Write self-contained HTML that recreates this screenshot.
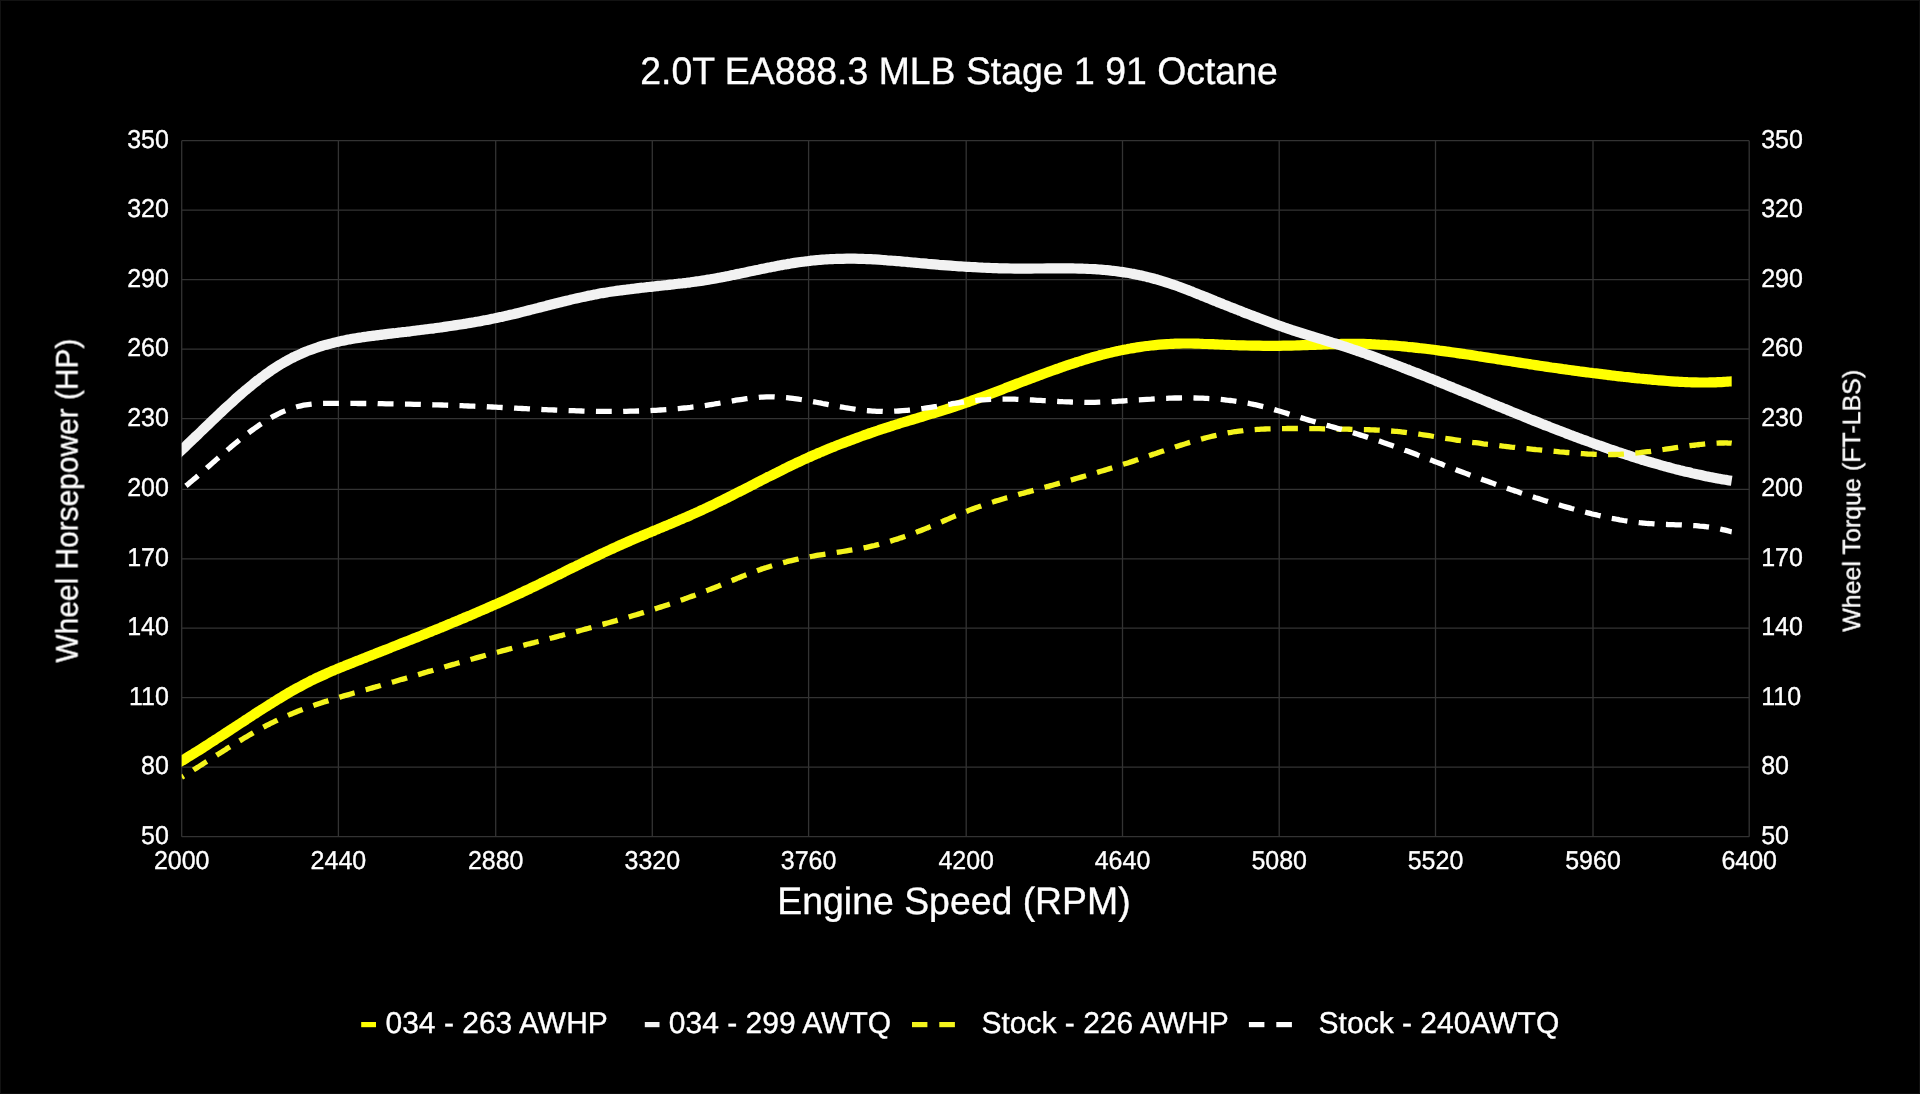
<!DOCTYPE html>
<html><head><meta charset="utf-8"><title>2.0T EA888.3 MLB Stage 1 91 Octane</title>
<style>html,body{margin:0;padding:0;background:#000;}body{width:1920px;height:1094px;overflow:hidden;}svg{display:block;}text{text-rendering:geometricPrecision;}#c{will-change:transform;width:1920px;height:1094px;}</style>
</head><body><div id="c">
<svg width="1920" height="1094" viewBox="0 0 1920 1094">
<rect x="0" y="0" width="1920" height="1094" fill="#000"/>
<rect x="0" y="0" width="1920" height="1" fill="#121212"/><rect x="0" y="0" width="1" height="1094" fill="#121212"/>
<rect x="1919" y="0" width="1" height="1094" fill="#101010"/><rect x="0" y="1093" width="1920" height="1" fill="#0d0d0d"/>
<g stroke="#333333" stroke-width="1.3" fill="none">
<line x1="181.7" y1="140.7" x2="181.7" y2="836.7"/>
<line x1="338.4" y1="140.7" x2="338.4" y2="836.7"/>
<line x1="495.7" y1="140.7" x2="495.7" y2="836.7"/>
<line x1="652.3" y1="140.7" x2="652.3" y2="836.7"/>
<line x1="808.6" y1="140.7" x2="808.6" y2="836.7"/>
<line x1="966.2" y1="140.7" x2="966.2" y2="836.7"/>
<line x1="1122.5" y1="140.7" x2="1122.5" y2="836.7"/>
<line x1="1279.2" y1="140.7" x2="1279.2" y2="836.7"/>
<line x1="1435.5" y1="140.7" x2="1435.5" y2="836.7"/>
<line x1="1593.0" y1="140.7" x2="1593.0" y2="836.7"/>
<line x1="1749.2" y1="140.7" x2="1749.2" y2="836.7"/>
<line x1="181.7" y1="140.7" x2="1749.2" y2="140.7"/>
<line x1="181.7" y1="210.2" x2="1749.2" y2="210.2"/>
<line x1="181.7" y1="279.7" x2="1749.2" y2="279.7"/>
<line x1="181.7" y1="349.2" x2="1749.2" y2="349.2"/>
<line x1="181.7" y1="418.6" x2="1749.2" y2="418.6"/>
<line x1="181.7" y1="489.4" x2="1749.2" y2="489.4"/>
<line x1="181.7" y1="558.8" x2="1749.2" y2="558.8"/>
<line x1="181.7" y1="628.2" x2="1749.2" y2="628.2"/>
<line x1="181.7" y1="697.7" x2="1749.2" y2="697.7"/>
<line x1="181.7" y1="767.2" x2="1749.2" y2="767.2"/>
<line x1="181.7" y1="836.7" x2="1749.2" y2="836.7"/>
</g>
<g fill="#fff" font-family="Liberation Sans, sans-serif" font-size="25" opacity="0.999">
<text transform="translate(168.90,147.65) scale(1,1.03)" font-size="25" fill="#fff" stroke="#fff" stroke-width="0.35" text-anchor="end">350</text>
<text transform="translate(168.90,217.15) scale(1,1.03)" font-size="25" fill="#fff" stroke="#fff" stroke-width="0.35" text-anchor="end">320</text>
<text transform="translate(168.90,286.65) scale(1,1.03)" font-size="25" fill="#fff" stroke="#fff" stroke-width="0.35" text-anchor="end">290</text>
<text transform="translate(168.90,356.15) scale(1,1.03)" font-size="25" fill="#fff" stroke="#fff" stroke-width="0.35" text-anchor="end">260</text>
<text transform="translate(168.90,425.55) scale(1,1.03)" font-size="25" fill="#fff" stroke="#fff" stroke-width="0.35" text-anchor="end">230</text>
<text transform="translate(168.90,496.35) scale(1,1.03)" font-size="25" fill="#fff" stroke="#fff" stroke-width="0.35" text-anchor="end">200</text>
<text transform="translate(168.90,565.75) scale(1,1.03)" font-size="25" fill="#fff" stroke="#fff" stroke-width="0.35" text-anchor="end">170</text>
<text transform="translate(168.90,635.15) scale(1,1.03)" font-size="25" fill="#fff" stroke="#fff" stroke-width="0.35" text-anchor="end">140</text>
<text transform="translate(168.90,704.65) scale(1,1.03)" font-size="25" fill="#fff" stroke="#fff" stroke-width="0.35" text-anchor="end">110</text>
<text transform="translate(168.90,774.15) scale(1,1.03)" font-size="25" fill="#fff" stroke="#fff" stroke-width="0.35" text-anchor="end">80</text>
<text transform="translate(168.90,843.65) scale(1,1.03)" font-size="25" fill="#fff" stroke="#fff" stroke-width="0.35" text-anchor="end">50</text>
<text transform="translate(1761.20,147.65) scale(1,1.03)" font-size="25" fill="#fff" stroke="#fff" stroke-width="0.35">350</text>
<text transform="translate(1761.20,217.15) scale(1,1.03)" font-size="25" fill="#fff" stroke="#fff" stroke-width="0.35">320</text>
<text transform="translate(1761.20,286.65) scale(1,1.03)" font-size="25" fill="#fff" stroke="#fff" stroke-width="0.35">290</text>
<text transform="translate(1761.20,356.15) scale(1,1.03)" font-size="25" fill="#fff" stroke="#fff" stroke-width="0.35">260</text>
<text transform="translate(1761.20,425.55) scale(1,1.03)" font-size="25" fill="#fff" stroke="#fff" stroke-width="0.35">230</text>
<text transform="translate(1761.20,496.35) scale(1,1.03)" font-size="25" fill="#fff" stroke="#fff" stroke-width="0.35">200</text>
<text transform="translate(1761.20,565.75) scale(1,1.03)" font-size="25" fill="#fff" stroke="#fff" stroke-width="0.35">170</text>
<text transform="translate(1761.20,635.15) scale(1,1.03)" font-size="25" fill="#fff" stroke="#fff" stroke-width="0.35">140</text>
<text transform="translate(1761.20,704.65) scale(1,1.03)" font-size="25" fill="#fff" stroke="#fff" stroke-width="0.35">110</text>
<text transform="translate(1761.20,774.15) scale(1,1.03)" font-size="25" fill="#fff" stroke="#fff" stroke-width="0.35">80</text>
<text transform="translate(1761.20,843.65) scale(1,1.03)" font-size="25" fill="#fff" stroke="#fff" stroke-width="0.35">50</text>
<text transform="translate(181.70,869.20) scale(1,1.03)" font-size="25" fill="#fff" stroke="#fff" stroke-width="0.35" text-anchor="middle">2000</text>
<text transform="translate(338.40,869.20) scale(1,1.03)" font-size="25" fill="#fff" stroke="#fff" stroke-width="0.35" text-anchor="middle">2440</text>
<text transform="translate(495.70,869.20) scale(1,1.03)" font-size="25" fill="#fff" stroke="#fff" stroke-width="0.35" text-anchor="middle">2880</text>
<text transform="translate(652.30,869.20) scale(1,1.03)" font-size="25" fill="#fff" stroke="#fff" stroke-width="0.35" text-anchor="middle">3320</text>
<text transform="translate(808.60,869.20) scale(1,1.03)" font-size="25" fill="#fff" stroke="#fff" stroke-width="0.35" text-anchor="middle">3760</text>
<text transform="translate(966.20,869.20) scale(1,1.03)" font-size="25" fill="#fff" stroke="#fff" stroke-width="0.35" text-anchor="middle">4200</text>
<text transform="translate(1122.50,869.20) scale(1,1.03)" font-size="25" fill="#fff" stroke="#fff" stroke-width="0.35" text-anchor="middle">4640</text>
<text transform="translate(1279.20,869.20) scale(1,1.03)" font-size="25" fill="#fff" stroke="#fff" stroke-width="0.35" text-anchor="middle">5080</text>
<text transform="translate(1435.50,869.20) scale(1,1.03)" font-size="25" fill="#fff" stroke="#fff" stroke-width="0.35" text-anchor="middle">5520</text>
<text transform="translate(1593.00,869.20) scale(1,1.03)" font-size="25" fill="#fff" stroke="#fff" stroke-width="0.35" text-anchor="middle">5960</text>
<text transform="translate(1749.20,869.20) scale(1,1.03)" font-size="25" fill="#fff" stroke="#fff" stroke-width="0.35" text-anchor="middle">6400</text>
</g>
<g font-family="Liberation Sans, sans-serif" opacity="0.999">
<text transform="translate(959.00,84.40) scale(1,1.025)" font-size="37.4" fill="#fff" stroke="#fff" stroke-width="0.35" text-anchor="middle">2.0T EA888.3 MLB Stage 1 91 Octane</text>
<text transform="translate(954.00,913.55) scale(1,1.02)" font-size="37.4" fill="#fff" stroke="#fff" stroke-width="0.35" text-anchor="middle">Engine Speed (RPM)</text>
<text transform="translate(77.65,500.60) rotate(-90) scale(1,1.04)" font-size="29.9" fill="#fff" stroke="#fff" stroke-width="0.35" text-anchor="middle">Wheel Horsepower (HP)</text>
<text transform="translate(1860.10,500.80) rotate(-90) scale(1,0.99)" font-size="25" fill="#fff" stroke="#fff" stroke-width="0.35" text-anchor="middle">Wheel Torque (FT-LBS)</text>
</g>
<defs><clipPath id="pc"><rect x="181.7" y="100" width="1567.5" height="760"/></clipPath></defs>
<g clip-path="url(#pc)" fill="none" stroke-linejoin="round">
<path d="M174.0,765.5 C174.7,765.1 176.7,763.9 178.0,763.1 C179.3,762.3 180.7,761.5 182.0,760.7 C183.3,759.9 184.7,759.1 186.0,758.3 C187.3,757.4 188.7,756.6 190.0,755.8 C191.4,755.0 192.7,754.1 194.0,753.3 C195.4,752.5 196.7,751.6 198.0,750.8 C199.4,749.9 200.7,749.1 202.0,748.3 C203.4,747.4 204.7,746.6 206.0,745.7 C207.4,744.9 208.7,744.0 210.0,743.1 C211.4,742.3 212.7,741.4 214.0,740.6 C215.4,739.7 216.7,738.8 218.0,738.0 C219.4,737.1 220.7,736.2 222.1,735.4 C223.4,734.5 224.7,733.6 226.1,732.8 C227.4,731.9 228.7,731.0 230.1,730.1 C231.4,729.3 232.7,728.4 234.1,727.5 C235.4,726.6 236.7,725.7 238.1,724.9 C239.4,724.0 240.7,723.1 242.1,722.2 C243.4,721.4 244.7,720.5 246.1,719.6 C247.4,718.7 248.7,717.9 250.1,717.0 C251.4,716.1 252.8,715.3 254.1,714.4 C255.4,713.5 256.8,712.7 258.1,711.8 C259.4,710.9 260.8,710.1 262.1,709.2 C263.4,708.4 264.8,707.5 266.1,706.7 C267.4,705.8 268.8,705.0 270.1,704.2 C271.4,703.3 272.8,702.5 274.1,701.7 C275.4,700.8 276.8,700.0 278.1,699.2 C279.4,698.4 280.8,697.6 282.1,696.8 C283.5,696.0 284.8,695.2 286.1,694.4 C287.5,693.6 288.8,692.8 290.1,692.1 C291.5,691.3 292.8,690.5 294.1,689.8 C295.5,689.0 296.8,688.3 298.1,687.6 C299.5,686.8 300.8,686.1 302.1,685.4 C303.5,684.7 304.8,684.0 306.1,683.3 C307.5,682.6 308.8,681.9 310.1,681.2 C311.5,680.5 312.8,679.9 314.2,679.2 C315.5,678.6 316.8,677.9 318.2,677.3 C319.5,676.7 320.8,676.1 322.2,675.5 C323.5,674.9 324.8,674.3 326.2,673.7 C327.5,673.1 328.8,672.5 330.2,671.9 C331.5,671.3 332.8,670.8 334.2,670.2 C335.5,669.6 336.8,669.1 338.2,668.5 C339.5,668.0 340.8,667.4 342.2,666.9 C343.5,666.4 344.9,665.8 346.2,665.3 C347.5,664.7 348.9,664.2 350.2,663.7 C351.5,663.1 352.9,662.6 354.2,662.1 C355.5,661.6 356.9,661.0 358.2,660.5 C359.5,660.0 360.9,659.5 362.2,658.9 C363.5,658.4 364.9,657.9 366.2,657.3 C367.5,656.8 368.9,656.3 370.2,655.8 C371.5,655.2 372.9,654.7 374.2,654.2 C375.6,653.7 376.9,653.1 378.2,652.6 C379.6,652.1 380.9,651.6 382.2,651.0 C383.6,650.5 384.9,650.0 386.2,649.5 C387.6,648.9 388.9,648.4 390.2,647.9 C391.6,647.3 392.9,646.8 394.2,646.3 C395.6,645.8 396.9,645.2 398.2,644.7 C399.6,644.2 400.9,643.6 402.2,643.1 C403.6,642.6 404.9,642.1 406.3,641.5 C407.6,641.0 408.9,640.5 410.3,639.9 C411.6,639.4 412.9,638.9 414.3,638.3 C415.6,637.8 416.9,637.3 418.3,636.7 C419.6,636.2 420.9,635.7 422.3,635.1 C423.6,634.6 424.9,634.1 426.3,633.5 C427.6,633.0 428.9,632.4 430.3,631.9 C431.6,631.4 432.9,630.8 434.3,630.3 C435.6,629.7 437.0,629.2 438.3,628.7 C439.6,628.1 441.0,627.6 442.3,627.0 C443.6,626.5 445.0,625.9 446.3,625.4 C447.6,624.8 449.0,624.3 450.3,623.7 C451.6,623.2 453.0,622.6 454.3,622.1 C455.6,621.5 457.0,621.0 458.3,620.4 C459.6,619.9 461.0,619.3 462.3,618.7 C463.6,618.2 465.0,617.6 466.3,617.0 C467.7,616.5 469.0,615.9 470.3,615.4 C471.7,614.8 473.0,614.2 474.3,613.6 C475.7,613.1 477.0,612.5 478.3,611.9 C479.7,611.4 481.0,610.8 482.3,610.2 C483.7,609.6 485.0,609.0 486.3,608.5 C487.7,607.9 489.0,607.3 490.3,606.7 C491.7,606.1 493.0,605.5 494.3,604.9 C495.7,604.4 497.0,603.8 498.4,603.2 C499.7,602.6 501.0,602.0 502.4,601.4 C503.7,600.8 505.0,600.2 506.4,599.6 C507.7,599.0 509.0,598.4 510.4,597.7 C511.7,597.1 513.0,596.5 514.4,595.9 C515.7,595.3 517.0,594.7 518.4,594.1 C519.7,593.4 521.0,592.8 522.4,592.2 C523.7,591.6 525.0,590.9 526.4,590.3 C527.7,589.7 529.1,589.1 530.4,588.4 C531.7,587.8 533.1,587.1 534.4,586.5 C535.7,585.9 537.1,585.2 538.4,584.6 C539.7,583.9 541.1,583.3 542.4,582.6 C543.7,582.0 545.1,581.3 546.4,580.7 C547.7,580.0 549.1,579.4 550.4,578.7 C551.7,578.1 553.1,577.4 554.4,576.7 C555.7,576.1 557.1,575.4 558.4,574.8 C559.8,574.1 561.1,573.4 562.4,572.8 C563.8,572.1 565.1,571.5 566.4,570.8 C567.8,570.2 569.1,569.5 570.4,568.8 C571.8,568.2 573.1,567.5 574.4,566.9 C575.8,566.2 577.1,565.5 578.4,564.9 C579.8,564.2 581.1,563.6 582.4,562.9 C583.8,562.3 585.1,561.6 586.5,561.0 C587.8,560.3 589.1,559.7 590.5,559.0 C591.8,558.4 593.1,557.7 594.5,557.1 C595.8,556.5 597.1,555.8 598.5,555.2 C599.8,554.6 601.1,553.9 602.5,553.3 C603.8,552.7 605.1,552.0 606.5,551.4 C607.8,550.8 609.1,550.2 610.5,549.6 C611.8,548.9 613.1,548.3 614.5,547.7 C615.8,547.1 617.2,546.5 618.5,545.9 C619.8,545.3 621.2,544.7 622.5,544.1 C623.8,543.5 625.2,543.0 626.5,542.4 C627.8,541.8 629.2,541.2 630.5,540.6 C631.8,540.1 633.2,539.5 634.5,538.9 C635.8,538.3 637.2,537.8 638.5,537.2 C639.8,536.6 641.2,536.1 642.5,535.5 C643.8,535.0 645.2,534.4 646.5,533.8 C647.9,533.3 649.2,532.7 650.5,532.2 C651.9,531.6 653.2,531.1 654.5,530.5 C655.9,529.9 657.2,529.4 658.5,528.8 C659.9,528.3 661.2,527.7 662.5,527.2 C663.9,526.6 665.2,526.0 666.5,525.5 C667.9,524.9 669.2,524.4 670.5,523.8 C671.9,523.2 673.2,522.7 674.5,522.1 C675.9,521.5 677.2,521.0 678.6,520.4 C679.9,519.8 681.2,519.3 682.6,518.7 C683.9,518.1 685.2,517.5 686.6,517.0 C687.9,516.4 689.2,515.8 690.6,515.2 C691.9,514.6 693.2,514.0 694.6,513.4 C695.9,512.8 697.2,512.2 698.6,511.6 C699.9,511.0 701.2,510.4 702.6,509.8 C703.9,509.2 705.2,508.5 706.6,507.9 C707.9,507.3 709.3,506.7 710.6,506.0 C711.9,505.4 713.3,504.7 714.6,504.1 C715.9,503.5 717.3,502.8 718.6,502.1 C719.9,501.5 721.3,500.8 722.6,500.2 C723.9,499.5 725.3,498.8 726.6,498.2 C727.9,497.5 729.3,496.8 730.6,496.2 C731.9,495.5 733.3,494.8 734.6,494.1 C735.9,493.5 737.3,492.8 738.6,492.1 C740.0,491.4 741.3,490.7 742.6,490.1 C744.0,489.4 745.3,488.7 746.6,488.0 C748.0,487.3 749.3,486.6 750.6,485.9 C752.0,485.3 753.3,484.6 754.6,483.9 C756.0,483.2 757.3,482.5 758.6,481.8 C760.0,481.1 761.3,480.5 762.6,479.8 C764.0,479.1 765.3,478.4 766.6,477.7 C768.0,477.0 769.3,476.4 770.7,475.7 C772.0,475.0 773.3,474.3 774.7,473.7 C776.0,473.0 777.3,472.3 778.7,471.7 C780.0,471.0 781.3,470.3 782.7,469.7 C784.0,469.0 785.3,468.4 786.7,467.7 C788.0,467.1 789.3,466.4 790.7,465.8 C792.0,465.1 793.3,464.5 794.7,463.9 C796.0,463.2 797.3,462.6 798.7,462.0 C800.0,461.4 801.4,460.7 802.7,460.1 C804.0,459.5 805.4,458.9 806.7,458.3 C808.0,457.7 809.4,457.1 810.7,456.5 C812.0,455.9 813.4,455.3 814.7,454.8 C816.0,454.2 817.4,453.6 818.7,453.0 C820.0,452.4 821.4,451.9 822.7,451.3 C824.0,450.8 825.4,450.2 826.7,449.6 C828.0,449.1 829.4,448.5 830.7,448.0 C832.1,447.5 833.4,446.9 834.7,446.4 C836.1,445.8 837.4,445.3 838.7,444.8 C840.1,444.3 841.4,443.7 842.7,443.2 C844.1,442.7 845.4,442.2 846.7,441.7 C848.1,441.2 849.4,440.7 850.7,440.2 C852.1,439.7 853.4,439.2 854.7,438.7 C856.1,438.2 857.4,437.7 858.7,437.2 C860.1,436.7 861.4,436.3 862.8,435.8 C864.1,435.3 865.4,434.8 866.8,434.4 C868.1,433.9 869.4,433.4 870.8,433.0 C872.1,432.5 873.4,432.0 874.8,431.6 C876.1,431.1 877.4,430.7 878.8,430.2 C880.1,429.8 881.4,429.3 882.8,428.9 C884.1,428.5 885.4,428.0 886.8,427.6 C888.1,427.2 889.4,426.7 890.8,426.3 C892.1,425.9 893.5,425.4 894.8,425.0 C896.1,424.6 897.5,424.2 898.8,423.8 C900.1,423.3 901.5,422.9 902.8,422.5 C904.1,422.1 905.5,421.7 906.8,421.3 C908.1,420.9 909.5,420.5 910.8,420.1 C912.1,419.7 913.5,419.3 914.8,418.9 C916.1,418.5 917.5,418.1 918.8,417.7 C920.1,417.3 921.5,416.9 922.8,416.5 C924.2,416.0 925.5,415.6 926.8,415.2 C928.2,414.8 929.5,414.4 930.8,414.0 C932.2,413.6 933.5,413.2 934.8,412.8 C936.2,412.4 937.5,412.0 938.8,411.6 C940.2,411.2 941.5,410.7 942.8,410.3 C944.2,409.9 945.5,409.5 946.8,409.1 C948.2,408.6 949.5,408.2 950.8,407.8 C952.2,407.4 953.5,406.9 954.9,406.5 C956.2,406.0 957.5,405.6 958.9,405.1 C960.2,404.7 961.5,404.2 962.9,403.8 C964.2,403.3 965.5,402.9 966.9,402.4 C968.2,401.9 969.5,401.5 970.9,401.0 C972.2,400.5 973.5,400.1 974.9,399.6 C976.2,399.1 977.5,398.6 978.9,398.1 C980.2,397.6 981.5,397.2 982.9,396.7 C984.2,396.2 985.6,395.7 986.9,395.2 C988.2,394.7 989.6,394.2 990.9,393.7 C992.2,393.2 993.6,392.7 994.9,392.2 C996.2,391.7 997.6,391.2 998.9,390.7 C1000.2,390.2 1001.6,389.7 1002.9,389.2 C1004.2,388.7 1005.6,388.1 1006.9,387.6 C1008.2,387.1 1009.6,386.6 1010.9,386.1 C1012.2,385.6 1013.6,385.1 1014.9,384.6 C1016.3,384.1 1017.6,383.6 1018.9,383.1 C1020.3,382.5 1021.6,382.0 1022.9,381.5 C1024.3,381.0 1025.6,380.5 1026.9,380.0 C1028.3,379.5 1029.6,379.0 1030.9,378.5 C1032.3,378.0 1033.6,377.5 1034.9,377.0 C1036.3,376.5 1037.6,376.0 1038.9,375.5 C1040.3,375.0 1041.6,374.5 1042.9,374.0 C1044.3,373.5 1045.6,373.0 1047.0,372.5 C1048.3,372.0 1049.6,371.5 1051.0,371.1 C1052.3,370.6 1053.6,370.1 1055.0,369.6 C1056.3,369.2 1057.6,368.7 1059.0,368.2 C1060.3,367.7 1061.6,367.3 1063.0,366.8 C1064.3,366.4 1065.6,365.9 1067.0,365.4 C1068.3,365.0 1069.6,364.5 1071.0,364.1 C1072.3,363.7 1073.6,363.2 1075.0,362.8 C1076.3,362.4 1077.7,361.9 1079.0,361.5 C1080.3,361.1 1081.7,360.7 1083.0,360.2 C1084.3,359.8 1085.7,359.4 1087.0,359.0 C1088.3,358.6 1089.7,358.2 1091.0,357.8 C1092.3,357.5 1093.7,357.1 1095.0,356.7 C1096.3,356.3 1097.7,356.0 1099.0,355.6 C1100.3,355.2 1101.7,354.9 1103.0,354.5 C1104.3,354.2 1105.7,353.9 1107.0,353.5 C1108.4,353.2 1109.7,352.9 1111.0,352.6 C1112.4,352.2 1113.7,351.9 1115.0,351.6 C1116.4,351.3 1117.7,351.0 1119.0,350.8 C1120.4,350.5 1121.7,350.2 1123.0,349.9 C1124.4,349.7 1125.7,349.4 1127.0,349.2 C1128.4,348.9 1129.7,348.7 1131.0,348.4 C1132.4,348.2 1133.7,348.0 1135.0,347.7 C1136.4,347.5 1137.7,347.3 1139.1,347.1 C1140.4,346.9 1141.7,346.7 1143.1,346.5 C1144.4,346.4 1145.7,346.2 1147.1,346.0 C1148.4,345.8 1149.7,345.7 1151.1,345.5 C1152.4,345.4 1153.7,345.2 1155.1,345.1 C1156.4,345.0 1157.7,344.8 1159.1,344.7 C1160.4,344.6 1161.7,344.5 1163.1,344.4 C1164.4,344.3 1165.7,344.2 1167.1,344.1 C1168.4,344.0 1169.8,344.0 1171.1,343.9 C1172.4,343.8 1173.8,343.8 1175.1,343.7 C1176.4,343.7 1177.8,343.6 1179.1,343.6 C1180.4,343.5 1181.8,343.5 1183.1,343.5 C1184.4,343.5 1185.8,343.5 1187.1,343.5 C1188.4,343.5 1189.8,343.5 1191.1,343.5 C1192.4,343.5 1193.8,343.5 1195.1,343.6 C1196.4,343.6 1197.8,343.6 1199.1,343.7 C1200.5,343.7 1201.8,343.7 1203.1,343.8 C1204.5,343.8 1205.8,343.9 1207.1,344.0 C1208.5,344.0 1209.8,344.1 1211.1,344.1 C1212.5,344.2 1213.8,344.2 1215.1,344.3 C1216.5,344.4 1217.8,344.4 1219.1,344.5 C1220.5,344.6 1221.8,344.6 1223.1,344.7 C1224.5,344.7 1225.8,344.8 1227.1,344.9 C1228.5,344.9 1229.8,345.0 1231.2,345.0 C1232.5,345.1 1233.8,345.1 1235.2,345.2 C1236.5,345.2 1237.8,345.3 1239.2,345.3 C1240.5,345.3 1241.8,345.4 1243.2,345.4 C1244.5,345.5 1245.8,345.5 1247.2,345.5 C1248.5,345.6 1249.8,345.6 1251.2,345.6 C1252.5,345.6 1253.8,345.7 1255.2,345.7 C1256.5,345.7 1257.8,345.7 1259.2,345.7 C1260.5,345.8 1261.9,345.8 1263.2,345.8 C1264.5,345.8 1265.9,345.8 1267.2,345.8 C1268.5,345.8 1269.9,345.8 1271.2,345.8 C1272.5,345.8 1273.9,345.8 1275.2,345.8 C1276.5,345.8 1277.9,345.8 1279.2,345.8 C1280.5,345.7 1281.9,345.7 1283.2,345.7 C1284.5,345.7 1285.9,345.7 1287.2,345.6 C1288.5,345.6 1289.9,345.6 1291.2,345.6 C1292.6,345.5 1293.9,345.5 1295.2,345.5 C1296.6,345.4 1297.9,345.4 1299.2,345.3 C1300.6,345.3 1301.9,345.3 1303.2,345.2 C1304.6,345.2 1305.9,345.1 1307.2,345.1 C1308.6,345.0 1309.9,345.0 1311.2,344.9 C1312.6,344.9 1313.9,344.8 1315.2,344.8 C1316.6,344.7 1317.9,344.7 1319.2,344.6 C1320.6,344.6 1321.9,344.5 1323.3,344.5 C1324.6,344.4 1325.9,344.4 1327.3,344.3 C1328.6,344.3 1329.9,344.2 1331.3,344.2 C1332.6,344.2 1333.9,344.1 1335.3,344.1 C1336.6,344.1 1337.9,344.0 1339.3,344.0 C1340.6,344.0 1341.9,343.9 1343.3,343.9 C1344.6,343.9 1345.9,343.9 1347.3,343.9 C1348.6,343.8 1350.0,343.8 1351.3,343.8 C1352.6,343.8 1354.0,343.8 1355.3,343.8 C1356.6,343.8 1358.0,343.8 1359.3,343.9 C1360.6,343.9 1362.0,343.9 1363.3,343.9 C1364.6,344.0 1366.0,344.0 1367.3,344.0 C1368.6,344.1 1370.0,344.1 1371.3,344.2 C1372.6,344.2 1374.0,344.3 1375.3,344.4 C1376.6,344.4 1378.0,344.5 1379.3,344.6 C1380.7,344.6 1382.0,344.7 1383.3,344.8 C1384.7,344.9 1386.0,345.0 1387.3,345.1 C1388.7,345.1 1390.0,345.2 1391.3,345.3 C1392.7,345.4 1394.0,345.6 1395.3,345.7 C1396.7,345.8 1398.0,345.9 1399.3,346.0 C1400.7,346.1 1402.0,346.3 1403.3,346.4 C1404.7,346.5 1406.0,346.6 1407.3,346.8 C1408.7,346.9 1410.0,347.0 1411.4,347.2 C1412.7,347.3 1414.0,347.5 1415.4,347.6 C1416.7,347.8 1418.0,347.9 1419.4,348.1 C1420.7,348.2 1422.0,348.4 1423.4,348.5 C1424.7,348.7 1426.0,348.9 1427.4,349.0 C1428.7,349.2 1430.0,349.4 1431.4,349.5 C1432.7,349.7 1434.0,349.9 1435.4,350.0 C1436.7,350.2 1438.0,350.4 1439.4,350.6 C1440.7,350.7 1442.1,350.9 1443.4,351.1 C1444.7,351.3 1446.1,351.5 1447.4,351.7 C1448.7,351.8 1450.1,352.0 1451.4,352.2 C1452.7,352.4 1454.1,352.6 1455.4,352.8 C1456.7,353.0 1458.1,353.2 1459.4,353.4 C1460.7,353.6 1462.1,353.7 1463.4,353.9 C1464.7,354.1 1466.1,354.3 1467.4,354.5 C1468.7,354.7 1470.1,354.9 1471.4,355.1 C1472.8,355.3 1474.1,355.5 1475.4,355.7 C1476.8,355.9 1478.1,356.1 1479.4,356.4 C1480.8,356.6 1482.1,356.8 1483.4,357.0 C1484.8,357.2 1486.1,357.4 1487.4,357.6 C1488.8,357.8 1490.1,358.0 1491.4,358.2 C1492.8,358.4 1494.1,358.6 1495.4,358.8 C1496.8,359.0 1498.1,359.3 1499.4,359.5 C1500.8,359.7 1502.1,359.9 1503.5,360.1 C1504.8,360.3 1506.1,360.5 1507.5,360.7 C1508.8,360.9 1510.1,361.1 1511.5,361.3 C1512.8,361.6 1514.1,361.8 1515.5,362.0 C1516.8,362.2 1518.1,362.4 1519.5,362.6 C1520.8,362.8 1522.1,363.0 1523.5,363.2 C1524.8,363.4 1526.1,363.6 1527.5,363.8 C1528.8,364.0 1530.1,364.3 1531.5,364.5 C1532.8,364.7 1534.2,364.9 1535.5,365.1 C1536.8,365.3 1538.2,365.5 1539.5,365.7 C1540.8,365.9 1542.2,366.1 1543.5,366.3 C1544.8,366.5 1546.2,366.7 1547.5,366.9 C1548.8,367.1 1550.2,367.3 1551.5,367.5 C1552.8,367.6 1554.2,367.8 1555.5,368.0 C1556.8,368.2 1558.2,368.4 1559.5,368.6 C1560.8,368.8 1562.2,369.0 1563.5,369.2 C1564.9,369.4 1566.2,369.5 1567.5,369.7 C1568.9,369.9 1570.2,370.1 1571.5,370.3 C1572.9,370.5 1574.2,370.7 1575.5,370.8 C1576.9,371.0 1578.2,371.2 1579.5,371.4 C1580.9,371.5 1582.2,371.7 1583.5,371.9 C1584.9,372.1 1586.2,372.2 1587.5,372.4 C1588.9,372.6 1590.2,372.8 1591.5,372.9 C1592.9,373.1 1594.2,373.3 1595.6,373.4 C1596.9,373.6 1598.2,373.8 1599.6,373.9 C1600.9,374.1 1602.2,374.3 1603.6,374.4 C1604.9,374.6 1606.2,374.8 1607.6,374.9 C1608.9,375.1 1610.2,375.2 1611.6,375.4 C1612.9,375.5 1614.2,375.7 1615.6,375.9 C1616.9,376.0 1618.2,376.2 1619.6,376.3 C1620.9,376.5 1622.2,376.6 1623.6,376.8 C1624.9,376.9 1626.3,377.1 1627.6,377.2 C1628.9,377.3 1630.3,377.5 1631.6,377.6 C1632.9,377.8 1634.3,377.9 1635.6,378.1 C1636.9,378.2 1638.3,378.3 1639.6,378.5 C1640.9,378.6 1642.3,378.7 1643.6,378.9 C1644.9,379.0 1646.3,379.1 1647.6,379.3 C1648.9,379.4 1650.3,379.5 1651.6,379.6 C1652.9,379.8 1654.3,379.9 1655.6,380.0 C1657.0,380.1 1658.3,380.3 1659.6,380.4 C1661.0,380.5 1662.3,380.6 1663.6,380.7 C1665.0,380.8 1666.3,380.9 1667.6,381.0 C1669.0,381.1 1670.3,381.2 1671.6,381.3 C1673.0,381.4 1674.3,381.5 1675.6,381.6 C1677.0,381.7 1678.3,381.7 1679.6,381.8 C1681.0,381.9 1682.3,381.9 1683.6,382.0 C1685.0,382.1 1686.3,382.1 1687.7,382.2 C1689.0,382.2 1690.3,382.3 1691.7,382.3 C1693.0,382.4 1694.3,382.4 1695.7,382.4 C1697.0,382.5 1698.3,382.5 1699.7,382.5 C1701.0,382.5 1702.3,382.5 1703.7,382.5 C1705.0,382.5 1706.3,382.5 1707.7,382.5 C1709.0,382.5 1710.3,382.4 1711.7,382.4 C1713.0,382.4 1714.3,382.3 1715.7,382.3 C1717.0,382.2 1718.4,382.2 1719.7,382.1 C1721.0,382.1 1722.4,382.0 1723.7,381.9 C1725.0,381.8 1726.4,381.7 1727.7,381.6 C1729.0,381.5 1731.0,381.3 1731.7,381.3" stroke="#ffff00" stroke-width="10.2"/>
<path d="M174.0,457.2 C174.7,456.5 176.7,454.7 178.0,453.4 C179.3,452.2 180.7,450.9 182.0,449.7 C183.3,448.4 184.7,447.1 186.0,445.9 C187.3,444.6 188.7,443.3 190.0,442.1 C191.4,440.8 192.7,439.5 194.0,438.2 C195.4,436.9 196.7,435.6 198.0,434.4 C199.4,433.1 200.7,431.8 202.0,430.5 C203.4,429.2 204.7,427.9 206.0,426.6 C207.4,425.4 208.7,424.1 210.0,422.8 C211.4,421.5 212.7,420.2 214.0,419.0 C215.4,417.7 216.7,416.4 218.0,415.2 C219.4,413.9 220.7,412.6 222.1,411.4 C223.4,410.1 224.7,408.9 226.1,407.6 C227.4,406.4 228.7,405.2 230.1,404.0 C231.4,402.7 232.7,401.5 234.1,400.3 C235.4,399.1 236.7,397.9 238.1,396.7 C239.4,395.6 240.7,394.4 242.1,393.2 C243.4,392.1 244.7,390.9 246.1,389.8 C247.4,388.7 248.7,387.6 250.1,386.5 C251.4,385.4 252.8,384.3 254.1,383.2 C255.4,382.1 256.8,381.1 258.1,380.0 C259.4,379.0 260.8,378.0 262.1,377.0 C263.4,376.0 264.8,375.0 266.1,374.0 C267.4,373.1 268.8,372.1 270.1,371.2 C271.4,370.3 272.8,369.4 274.1,368.5 C275.4,367.6 276.8,366.7 278.1,365.9 C279.4,365.1 280.8,364.3 282.1,363.5 C283.5,362.7 284.8,361.9 286.1,361.2 C287.5,360.4 288.8,359.7 290.1,359.0 C291.5,358.3 292.8,357.6 294.1,357.0 C295.5,356.3 296.8,355.7 298.1,355.1 C299.5,354.5 300.8,353.9 302.1,353.3 C303.5,352.7 304.8,352.1 306.1,351.6 C307.5,351.1 308.8,350.5 310.1,350.0 C311.5,349.5 312.8,349.0 314.2,348.6 C315.5,348.1 316.8,347.7 318.2,347.2 C319.5,346.8 320.8,346.4 322.2,345.9 C323.5,345.5 324.8,345.1 326.2,344.8 C327.5,344.4 328.8,344.0 330.2,343.7 C331.5,343.3 332.8,343.0 334.2,342.6 C335.5,342.3 336.8,342.0 338.2,341.7 C339.5,341.4 340.8,341.1 342.2,340.8 C343.5,340.5 344.9,340.3 346.2,340.0 C347.5,339.7 348.9,339.5 350.2,339.2 C351.5,339.0 352.9,338.8 354.2,338.5 C355.5,338.3 356.9,338.1 358.2,337.9 C359.5,337.7 360.9,337.5 362.2,337.3 C363.5,337.0 364.9,336.9 366.2,336.7 C367.5,336.5 368.9,336.3 370.2,336.1 C371.5,335.9 372.9,335.8 374.2,335.6 C375.6,335.4 376.9,335.3 378.2,335.1 C379.6,334.9 380.9,334.8 382.2,334.6 C383.6,334.4 384.9,334.3 386.2,334.1 C387.6,334.0 388.9,333.8 390.2,333.6 C391.6,333.5 392.9,333.3 394.2,333.2 C395.6,333.0 396.9,332.9 398.2,332.7 C399.6,332.6 400.9,332.4 402.2,332.2 C403.6,332.1 404.9,331.9 406.3,331.8 C407.6,331.6 408.9,331.4 410.3,331.3 C411.6,331.1 412.9,331.0 414.3,330.8 C415.6,330.6 416.9,330.5 418.3,330.3 C419.6,330.1 420.9,330.0 422.3,329.8 C423.6,329.6 424.9,329.5 426.3,329.3 C427.6,329.1 428.9,329.0 430.3,328.8 C431.6,328.6 432.9,328.4 434.3,328.3 C435.6,328.1 437.0,327.9 438.3,327.7 C439.6,327.5 441.0,327.4 442.3,327.2 C443.6,327.0 445.0,326.8 446.3,326.6 C447.6,326.4 449.0,326.2 450.3,326.0 C451.6,325.8 453.0,325.6 454.3,325.4 C455.6,325.2 457.0,325.0 458.3,324.8 C459.6,324.6 461.0,324.4 462.3,324.2 C463.6,324.0 465.0,323.8 466.3,323.6 C467.7,323.3 469.0,323.1 470.3,322.9 C471.7,322.7 473.0,322.4 474.3,322.2 C475.7,322.0 477.0,321.7 478.3,321.5 C479.7,321.2 481.0,321.0 482.3,320.7 C483.7,320.5 485.0,320.2 486.3,320.0 C487.7,319.7 489.0,319.5 490.3,319.2 C491.7,318.9 493.0,318.7 494.3,318.4 C495.7,318.1 497.0,317.8 498.4,317.5 C499.7,317.2 501.0,317.0 502.4,316.7 C503.7,316.4 505.0,316.1 506.4,315.8 C507.7,315.5 509.0,315.1 510.4,314.8 C511.7,314.5 513.0,314.2 514.4,313.9 C515.7,313.6 517.0,313.2 518.4,312.9 C519.7,312.6 521.0,312.3 522.4,311.9 C523.7,311.6 525.0,311.3 526.4,310.9 C527.7,310.6 529.1,310.3 530.4,309.9 C531.7,309.6 533.1,309.2 534.4,308.9 C535.7,308.6 537.1,308.2 538.4,307.9 C539.7,307.5 541.1,307.2 542.4,306.9 C543.7,306.5 545.1,306.2 546.4,305.8 C547.7,305.5 549.1,305.1 550.4,304.8 C551.7,304.5 553.1,304.1 554.4,303.8 C555.7,303.5 557.1,303.1 558.4,302.8 C559.8,302.5 561.1,302.1 562.4,301.8 C563.8,301.5 565.1,301.1 566.4,300.8 C567.8,300.5 569.1,300.2 570.4,299.8 C571.8,299.5 573.1,299.2 574.4,298.9 C575.8,298.6 577.1,298.3 578.4,298.0 C579.8,297.7 581.1,297.4 582.4,297.1 C583.8,296.8 585.1,296.5 586.5,296.2 C587.8,296.0 589.1,295.7 590.5,295.4 C591.8,295.1 593.1,294.9 594.5,294.6 C595.8,294.3 597.1,294.1 598.5,293.8 C599.8,293.6 601.1,293.4 602.5,293.1 C603.8,292.9 605.1,292.7 606.5,292.5 C607.8,292.2 609.1,292.0 610.5,291.8 C611.8,291.6 613.1,291.4 614.5,291.2 C615.8,291.0 617.2,290.8 618.5,290.6 C619.8,290.4 621.2,290.3 622.5,290.1 C623.8,289.9 625.2,289.7 626.5,289.6 C627.8,289.4 629.2,289.2 630.5,289.1 C631.8,288.9 633.2,288.7 634.5,288.6 C635.8,288.4 637.2,288.3 638.5,288.1 C639.8,288.0 641.2,287.8 642.5,287.7 C643.8,287.5 645.2,287.4 646.5,287.2 C647.9,287.1 649.2,286.9 650.5,286.8 C651.9,286.7 653.2,286.5 654.5,286.4 C655.9,286.2 657.2,286.1 658.5,285.9 C659.9,285.8 661.2,285.7 662.5,285.5 C663.9,285.4 665.2,285.2 666.5,285.1 C667.9,284.9 669.2,284.8 670.5,284.6 C671.9,284.5 673.2,284.4 674.5,284.2 C675.9,284.1 677.2,283.9 678.6,283.7 C679.9,283.6 681.2,283.4 682.6,283.3 C683.9,283.1 685.2,282.9 686.6,282.8 C687.9,282.6 689.2,282.4 690.6,282.3 C691.9,282.1 693.2,281.9 694.6,281.7 C695.9,281.5 697.2,281.4 698.6,281.2 C699.9,281.0 701.2,280.8 702.6,280.6 C703.9,280.4 705.2,280.2 706.6,279.9 C707.9,279.7 709.3,279.5 710.6,279.3 C711.9,279.0 713.3,278.8 714.6,278.6 C715.9,278.3 717.3,278.1 718.6,277.8 C719.9,277.6 721.3,277.3 722.6,277.1 C723.9,276.8 725.3,276.6 726.6,276.3 C727.9,276.0 729.3,275.8 730.6,275.5 C731.9,275.2 733.3,275.0 734.6,274.7 C735.9,274.4 737.3,274.1 738.6,273.9 C740.0,273.6 741.3,273.3 742.6,273.0 C744.0,272.8 745.3,272.5 746.6,272.2 C748.0,271.9 749.3,271.6 750.6,271.3 C752.0,271.1 753.3,270.8 754.6,270.5 C756.0,270.2 757.3,269.9 758.6,269.7 C760.0,269.4 761.3,269.1 762.6,268.8 C764.0,268.5 765.3,268.3 766.6,268.0 C768.0,267.7 769.3,267.5 770.7,267.2 C772.0,266.9 773.3,266.7 774.7,266.4 C776.0,266.1 777.3,265.9 778.7,265.6 C780.0,265.4 781.3,265.1 782.7,264.9 C784.0,264.7 785.3,264.4 786.7,264.2 C788.0,264.0 789.3,263.7 790.7,263.5 C792.0,263.3 793.3,263.1 794.7,262.9 C796.0,262.7 797.3,262.5 798.7,262.3 C800.0,262.1 801.4,261.9 802.7,261.7 C804.0,261.5 805.4,261.4 806.7,261.2 C808.0,261.0 809.4,260.9 810.7,260.7 C812.0,260.6 813.4,260.4 814.7,260.3 C816.0,260.2 817.4,260.1 818.7,260.0 C820.0,259.8 821.4,259.7 822.7,259.6 C824.0,259.5 825.4,259.5 826.7,259.4 C828.0,259.3 829.4,259.2 830.7,259.1 C832.1,259.1 833.4,259.0 834.7,259.0 C836.1,258.9 837.4,258.9 838.7,258.8 C840.1,258.8 841.4,258.8 842.7,258.8 C844.1,258.7 845.4,258.7 846.7,258.7 C848.1,258.7 849.4,258.7 850.7,258.7 C852.1,258.7 853.4,258.7 854.7,258.7 C856.1,258.8 857.4,258.8 858.7,258.8 C860.1,258.8 861.4,258.9 862.8,258.9 C864.1,259.0 865.4,259.0 866.8,259.1 C868.1,259.1 869.4,259.2 870.8,259.2 C872.1,259.3 873.4,259.4 874.8,259.4 C876.1,259.5 877.4,259.6 878.8,259.7 C880.1,259.8 881.4,259.9 882.8,260.0 C884.1,260.1 885.4,260.1 886.8,260.3 C888.1,260.4 889.4,260.5 890.8,260.6 C892.1,260.7 893.5,260.8 894.8,260.9 C896.1,261.0 897.5,261.1 898.8,261.2 C900.1,261.3 901.5,261.5 902.8,261.6 C904.1,261.7 905.5,261.8 906.8,261.9 C908.1,262.1 909.5,262.2 910.8,262.3 C912.1,262.4 913.5,262.6 914.8,262.7 C916.1,262.8 917.5,262.9 918.8,263.0 C920.1,263.2 921.5,263.3 922.8,263.4 C924.2,263.5 925.5,263.6 926.8,263.7 C928.2,263.9 929.5,264.0 930.8,264.1 C932.2,264.2 933.5,264.3 934.8,264.4 C936.2,264.5 937.5,264.6 938.8,264.8 C940.2,264.9 941.5,265.0 942.8,265.1 C944.2,265.2 945.5,265.3 946.8,265.4 C948.2,265.5 949.5,265.6 950.8,265.7 C952.2,265.8 953.5,265.9 954.9,266.0 C956.2,266.1 957.5,266.2 958.9,266.3 C960.2,266.4 961.5,266.4 962.9,266.5 C964.2,266.6 965.5,266.7 966.9,266.8 C968.2,266.9 969.5,266.9 970.9,267.0 C972.2,267.1 973.5,267.2 974.9,267.2 C976.2,267.3 977.5,267.4 978.9,267.5 C980.2,267.5 981.5,267.6 982.9,267.7 C984.2,267.7 985.6,267.8 986.9,267.8 C988.2,267.9 989.6,267.9 990.9,268.0 C992.2,268.0 993.6,268.1 994.9,268.1 C996.2,268.2 997.6,268.2 998.9,268.3 C1000.2,268.3 1001.6,268.3 1002.9,268.4 C1004.2,268.4 1005.6,268.4 1006.9,268.4 C1008.2,268.5 1009.6,268.5 1010.9,268.5 C1012.2,268.5 1013.6,268.5 1014.9,268.6 C1016.3,268.6 1017.6,268.6 1018.9,268.6 C1020.3,268.6 1021.6,268.6 1022.9,268.6 C1024.3,268.6 1025.6,268.6 1026.9,268.6 C1028.3,268.6 1029.6,268.6 1030.9,268.6 C1032.3,268.5 1033.6,268.5 1034.9,268.5 C1036.3,268.5 1037.6,268.5 1038.9,268.5 C1040.3,268.5 1041.6,268.5 1042.9,268.5 C1044.3,268.4 1045.6,268.4 1047.0,268.4 C1048.3,268.4 1049.6,268.4 1051.0,268.4 C1052.3,268.4 1053.6,268.4 1055.0,268.4 C1056.3,268.4 1057.6,268.4 1059.0,268.4 C1060.3,268.4 1061.6,268.4 1063.0,268.4 C1064.3,268.4 1065.6,268.4 1067.0,268.4 C1068.3,268.4 1069.6,268.4 1071.0,268.4 C1072.3,268.4 1073.6,268.5 1075.0,268.5 C1076.3,268.5 1077.7,268.5 1079.0,268.6 C1080.3,268.6 1081.7,268.6 1083.0,268.7 C1084.3,268.7 1085.7,268.8 1087.0,268.8 C1088.3,268.9 1089.7,269.0 1091.0,269.0 C1092.3,269.1 1093.7,269.2 1095.0,269.2 C1096.3,269.3 1097.7,269.4 1099.0,269.5 C1100.3,269.6 1101.7,269.7 1103.0,269.8 C1104.3,269.9 1105.7,270.1 1107.0,270.2 C1108.4,270.3 1109.7,270.4 1111.0,270.6 C1112.4,270.7 1113.7,270.9 1115.0,271.0 C1116.4,271.2 1117.7,271.4 1119.0,271.6 C1120.4,271.7 1121.7,271.9 1123.0,272.1 C1124.4,272.3 1125.7,272.6 1127.0,272.8 C1128.4,273.0 1129.7,273.2 1131.0,273.5 C1132.4,273.7 1133.7,274.0 1135.0,274.2 C1136.4,274.5 1137.7,274.8 1139.1,275.1 C1140.4,275.3 1141.7,275.6 1143.1,275.9 C1144.4,276.2 1145.7,276.6 1147.1,276.9 C1148.4,277.2 1149.7,277.6 1151.1,277.9 C1152.4,278.2 1153.7,278.6 1155.1,279.0 C1156.4,279.3 1157.7,279.7 1159.1,280.1 C1160.4,280.5 1161.7,280.9 1163.1,281.3 C1164.4,281.7 1165.7,282.1 1167.1,282.6 C1168.4,283.0 1169.8,283.4 1171.1,283.9 C1172.4,284.4 1173.8,284.8 1175.1,285.3 C1176.4,285.8 1177.8,286.2 1179.1,286.7 C1180.4,287.2 1181.8,287.7 1183.1,288.2 C1184.4,288.7 1185.8,289.2 1187.1,289.7 C1188.4,290.3 1189.8,290.8 1191.1,291.3 C1192.4,291.8 1193.8,292.4 1195.1,292.9 C1196.4,293.4 1197.8,294.0 1199.1,294.5 C1200.5,295.0 1201.8,295.6 1203.1,296.1 C1204.5,296.6 1205.8,297.2 1207.1,297.7 C1208.5,298.3 1209.8,298.8 1211.1,299.4 C1212.5,299.9 1213.8,300.4 1215.1,301.0 C1216.5,301.5 1217.8,302.1 1219.1,302.6 C1220.5,303.1 1221.8,303.7 1223.1,304.2 C1224.5,304.7 1225.8,305.3 1227.1,305.8 C1228.5,306.3 1229.8,306.9 1231.2,307.4 C1232.5,307.9 1233.8,308.5 1235.2,309.0 C1236.5,309.5 1237.8,310.1 1239.2,310.6 C1240.5,311.1 1241.8,311.6 1243.2,312.2 C1244.5,312.7 1245.8,313.2 1247.2,313.7 C1248.5,314.3 1249.8,314.8 1251.2,315.3 C1252.5,315.8 1253.8,316.3 1255.2,316.8 C1256.5,317.3 1257.8,317.8 1259.2,318.3 C1260.5,318.8 1261.9,319.3 1263.2,319.8 C1264.5,320.3 1265.9,320.8 1267.2,321.3 C1268.5,321.8 1269.9,322.3 1271.2,322.8 C1272.5,323.3 1273.9,323.8 1275.2,324.2 C1276.5,324.7 1277.9,325.2 1279.2,325.7 C1280.5,326.1 1281.9,326.6 1283.2,327.1 C1284.5,327.5 1285.9,328.0 1287.2,328.4 C1288.5,328.9 1289.9,329.3 1291.2,329.8 C1292.6,330.2 1293.9,330.7 1295.2,331.1 C1296.6,331.5 1297.9,332.0 1299.2,332.4 C1300.6,332.8 1301.9,333.3 1303.2,333.7 C1304.6,334.1 1305.9,334.5 1307.2,334.9 C1308.6,335.3 1309.9,335.7 1311.2,336.1 C1312.6,336.6 1313.9,337.0 1315.2,337.4 C1316.6,337.8 1317.9,338.2 1319.2,338.6 C1320.6,339.0 1321.9,339.4 1323.3,339.8 C1324.6,340.2 1325.9,340.6 1327.3,341.0 C1328.6,341.4 1329.9,341.8 1331.3,342.3 C1332.6,342.7 1333.9,343.1 1335.3,343.5 C1336.6,343.9 1337.9,344.4 1339.3,344.8 C1340.6,345.2 1341.9,345.7 1343.3,346.1 C1344.6,346.5 1345.9,347.0 1347.3,347.4 C1348.6,347.9 1350.0,348.3 1351.3,348.8 C1352.6,349.2 1354.0,349.7 1355.3,350.2 C1356.6,350.6 1358.0,351.1 1359.3,351.5 C1360.6,352.0 1362.0,352.5 1363.3,353.0 C1364.6,353.4 1366.0,353.9 1367.3,354.4 C1368.6,354.9 1370.0,355.3 1371.3,355.8 C1372.6,356.3 1374.0,356.8 1375.3,357.3 C1376.6,357.8 1378.0,358.3 1379.3,358.8 C1380.7,359.3 1382.0,359.8 1383.3,360.2 C1384.7,360.7 1386.0,361.2 1387.3,361.7 C1388.7,362.2 1390.0,362.8 1391.3,363.3 C1392.7,363.8 1394.0,364.3 1395.3,364.8 C1396.7,365.3 1398.0,365.8 1399.3,366.3 C1400.7,366.8 1402.0,367.3 1403.3,367.9 C1404.7,368.4 1406.0,368.9 1407.3,369.4 C1408.7,369.9 1410.0,370.5 1411.4,371.0 C1412.7,371.5 1414.0,372.0 1415.4,372.6 C1416.7,373.1 1418.0,373.6 1419.4,374.1 C1420.7,374.7 1422.0,375.2 1423.4,375.7 C1424.7,376.3 1426.0,376.8 1427.4,377.3 C1428.7,377.9 1430.0,378.4 1431.4,378.9 C1432.7,379.5 1434.0,380.0 1435.4,380.5 C1436.7,381.1 1438.0,381.6 1439.4,382.2 C1440.7,382.7 1442.1,383.2 1443.4,383.8 C1444.7,384.3 1446.1,384.9 1447.4,385.4 C1448.7,385.9 1450.1,386.5 1451.4,387.0 C1452.7,387.6 1454.1,388.1 1455.4,388.7 C1456.7,389.2 1458.1,389.8 1459.4,390.3 C1460.7,390.9 1462.1,391.4 1463.4,391.9 C1464.7,392.5 1466.1,393.0 1467.4,393.6 C1468.7,394.1 1470.1,394.7 1471.4,395.2 C1472.8,395.8 1474.1,396.3 1475.4,396.9 C1476.8,397.4 1478.1,398.0 1479.4,398.5 C1480.8,399.1 1482.1,399.6 1483.4,400.2 C1484.8,400.7 1486.1,401.3 1487.4,401.8 C1488.8,402.4 1490.1,402.9 1491.4,403.5 C1492.8,404.0 1494.1,404.6 1495.4,405.1 C1496.8,405.7 1498.1,406.2 1499.4,406.8 C1500.8,407.3 1502.1,407.8 1503.5,408.4 C1504.8,408.9 1506.1,409.5 1507.5,410.0 C1508.8,410.6 1510.1,411.1 1511.5,411.7 C1512.8,412.2 1514.1,412.7 1515.5,413.3 C1516.8,413.8 1518.1,414.4 1519.5,414.9 C1520.8,415.5 1522.1,416.0 1523.5,416.5 C1524.8,417.1 1526.1,417.6 1527.5,418.1 C1528.8,418.7 1530.1,419.2 1531.5,419.8 C1532.8,420.3 1534.2,420.8 1535.5,421.4 C1536.8,421.9 1538.2,422.4 1539.5,422.9 C1540.8,423.5 1542.2,424.0 1543.5,424.5 C1544.8,425.1 1546.2,425.6 1547.5,426.1 C1548.8,426.6 1550.2,427.2 1551.5,427.7 C1552.8,428.2 1554.2,428.7 1555.5,429.2 C1556.8,429.8 1558.2,430.3 1559.5,430.8 C1560.8,431.3 1562.2,431.8 1563.5,432.3 C1564.9,432.8 1566.2,433.4 1567.5,433.9 C1568.9,434.4 1570.2,434.9 1571.5,435.4 C1572.9,435.9 1574.2,436.4 1575.5,436.9 C1576.9,437.4 1578.2,437.9 1579.5,438.4 C1580.9,438.9 1582.2,439.4 1583.5,439.9 C1584.9,440.3 1586.2,440.8 1587.5,441.3 C1588.9,441.8 1590.2,442.3 1591.5,442.8 C1592.9,443.3 1594.2,443.7 1595.6,444.2 C1596.9,444.7 1598.2,445.2 1599.6,445.6 C1600.9,446.1 1602.2,446.6 1603.6,447.0 C1604.9,447.5 1606.2,448.0 1607.6,448.4 C1608.9,448.9 1610.2,449.4 1611.6,449.8 C1612.9,450.3 1614.2,450.7 1615.6,451.2 C1616.9,451.6 1618.2,452.1 1619.6,452.5 C1620.9,453.0 1622.2,453.4 1623.6,453.8 C1624.9,454.3 1626.3,454.7 1627.6,455.1 C1628.9,455.6 1630.3,456.0 1631.6,456.4 C1632.9,456.9 1634.3,457.3 1635.6,457.7 C1636.9,458.1 1638.3,458.5 1639.6,458.9 C1640.9,459.3 1642.3,459.8 1643.6,460.2 C1644.9,460.6 1646.3,461.0 1647.6,461.4 C1648.9,461.8 1650.3,462.2 1651.6,462.5 C1652.9,462.9 1654.3,463.3 1655.6,463.7 C1657.0,464.1 1658.3,464.5 1659.6,464.8 C1661.0,465.2 1662.3,465.6 1663.6,466.0 C1665.0,466.3 1666.3,466.7 1667.6,467.0 C1669.0,467.4 1670.3,467.8 1671.6,468.1 C1673.0,468.5 1674.3,468.8 1675.6,469.2 C1677.0,469.5 1678.3,469.8 1679.6,470.2 C1681.0,470.5 1682.3,470.8 1683.6,471.2 C1685.0,471.5 1686.3,471.8 1687.7,472.1 C1689.0,472.4 1690.3,472.7 1691.7,473.1 C1693.0,473.4 1694.3,473.7 1695.7,474.0 C1697.0,474.3 1698.3,474.6 1699.7,474.8 C1701.0,475.1 1702.3,475.4 1703.7,475.7 C1705.0,476.0 1706.3,476.2 1707.7,476.5 C1709.0,476.8 1710.3,477.0 1711.7,477.3 C1713.0,477.6 1714.3,477.8 1715.7,478.1 C1717.0,478.3 1718.4,478.6 1719.7,478.8 C1721.0,479.0 1722.4,479.3 1723.7,479.5 C1725.0,479.7 1726.4,480.0 1727.7,480.2 C1729.0,480.4 1731.0,480.7 1731.7,480.8" stroke="#f2f2f2" stroke-width="10.2"/>
<path d="M181.7,777.2 C182.4,776.8 184.4,775.6 185.7,774.7 C187.0,773.9 188.4,773.1 189.7,772.2 C191.0,771.4 192.4,770.6 193.7,769.7 C195.1,768.9 196.4,768.1 197.7,767.2 C199.1,766.4 200.4,765.5 201.7,764.7 C203.1,763.8 204.4,763.0 205.7,762.1 C207.1,761.3 208.4,760.5 209.7,759.6 C211.1,758.8 212.4,757.9 213.7,757.1 C215.1,756.2 216.4,755.4 217.7,754.5 C219.1,753.7 220.4,752.8 221.8,752.0 C223.1,751.1 224.4,750.3 225.8,749.5 C227.1,748.6 228.4,747.8 229.8,746.9 C231.1,746.1 232.4,745.3 233.8,744.5 C235.1,743.6 236.4,742.8 237.8,742.0 C239.1,741.2 240.4,740.4 241.8,739.6 C243.1,738.7 244.4,737.9 245.8,737.2 C247.1,736.4 248.5,735.6 249.8,734.8 C251.1,734.0 252.5,733.3 253.8,732.5 C255.1,731.7 256.5,731.0 257.8,730.2 C259.1,729.5 260.5,728.8 261.8,728.0 C263.1,727.3 264.5,726.6 265.8,725.9 C267.1,725.2 268.5,724.5 269.8,723.8 C271.1,723.2 272.5,722.5 273.8,721.9 C275.2,721.2 276.5,720.6 277.8,719.9 C279.2,719.3 280.5,718.7 281.8,718.1 C283.2,717.5 284.5,716.9 285.8,716.3 C287.2,715.7 288.5,715.1 289.8,714.6 C291.2,714.0 292.5,713.5 293.8,712.9 C295.2,712.4 296.5,711.8 297.8,711.3 C299.2,710.8 300.5,710.3 301.9,709.8 C303.2,709.3 304.5,708.8 305.9,708.3 C307.2,707.8 308.5,707.3 309.9,706.8 C311.2,706.3 312.5,705.9 313.9,705.4 C315.2,704.9 316.5,704.5 317.9,704.0 C319.2,703.6 320.5,703.1 321.9,702.7 C323.2,702.3 324.6,701.8 325.9,701.4 C327.2,701.0 328.6,700.6 329.9,700.1 C331.2,699.7 332.6,699.3 333.9,698.9 C335.2,698.5 336.6,698.1 337.9,697.7 C339.2,697.3 340.6,696.9 341.9,696.5 C343.2,696.1 344.6,695.7 345.9,695.3 C347.2,695.0 348.6,694.6 349.9,694.2 C351.3,693.8 352.6,693.4 353.9,693.0 C355.3,692.7 356.6,692.3 357.9,691.9 C359.3,691.5 360.6,691.2 361.9,690.8 C363.3,690.4 364.6,690.0 365.9,689.7 C367.3,689.3 368.6,688.9 369.9,688.5 C371.3,688.2 372.6,687.8 373.9,687.4 C375.3,687.0 376.6,686.6 378.0,686.3 C379.3,685.9 380.6,685.5 382.0,685.1 C383.3,684.7 384.6,684.4 386.0,684.0 C387.3,683.6 388.6,683.2 390.0,682.8 C391.3,682.4 392.6,682.1 394.0,681.7 C395.3,681.3 396.6,680.9 398.0,680.5 C399.3,680.1 400.6,679.7 402.0,679.3 C403.3,679.0 404.7,678.6 406.0,678.2 C407.3,677.8 408.7,677.4 410.0,677.0 C411.3,676.6 412.7,676.2 414.0,675.8 C415.3,675.4 416.7,675.1 418.0,674.7 C419.3,674.3 420.7,673.9 422.0,673.5 C423.3,673.1 424.7,672.7 426.0,672.3 C427.4,671.9 428.7,671.5 430.0,671.2 C431.4,670.8 432.7,670.4 434.0,670.0 C435.4,669.6 436.7,669.2 438.0,668.8 C439.4,668.4 440.7,668.0 442.0,667.7 C443.4,667.3 444.7,666.9 446.0,666.5 C447.4,666.1 448.7,665.7 450.0,665.3 C451.4,665.0 452.7,664.6 454.1,664.2 C455.4,663.8 456.7,663.4 458.1,663.0 C459.4,662.7 460.7,662.3 462.1,661.9 C463.4,661.5 464.7,661.2 466.1,660.8 C467.4,660.4 468.7,660.0 470.1,659.7 C471.4,659.3 472.7,658.9 474.1,658.5 C475.4,658.2 476.7,657.8 478.1,657.4 C479.4,657.1 480.8,656.7 482.1,656.3 C483.4,656.0 484.8,655.6 486.1,655.2 C487.4,654.9 488.8,654.5 490.1,654.1 C491.4,653.8 492.8,653.4 494.1,653.1 C495.4,652.7 496.8,652.4 498.1,652.0 C499.4,651.6 500.8,651.3 502.1,650.9 C503.4,650.6 504.8,650.2 506.1,649.9 C507.5,649.5 508.8,649.2 510.1,648.8 C511.5,648.5 512.8,648.1 514.1,647.8 C515.5,647.4 516.8,647.1 518.1,646.7 C519.5,646.4 520.8,646.0 522.1,645.7 C523.5,645.3 524.8,645.0 526.1,644.6 C527.5,644.3 528.8,643.9 530.1,643.6 C531.5,643.2 532.8,642.9 534.2,642.6 C535.5,642.2 536.8,641.9 538.2,641.5 C539.5,641.2 540.8,640.8 542.2,640.5 C543.5,640.1 544.8,639.8 546.2,639.4 C547.5,639.1 548.8,638.8 550.2,638.4 C551.5,638.1 552.8,637.7 554.2,637.4 C555.5,637.0 556.9,636.7 558.2,636.3 C559.5,636.0 560.9,635.6 562.2,635.3 C563.5,634.9 564.9,634.6 566.2,634.2 C567.5,633.9 568.9,633.5 570.2,633.2 C571.5,632.8 572.9,632.5 574.2,632.1 C575.5,631.8 576.9,631.4 578.2,631.1 C579.5,630.7 580.9,630.3 582.2,630.0 C583.6,629.6 584.9,629.3 586.2,628.9 C587.6,628.6 588.9,628.2 590.2,627.8 C591.6,627.5 592.9,627.1 594.2,626.7 C595.6,626.4 596.9,626.0 598.2,625.6 C599.6,625.3 600.9,624.9 602.2,624.5 C603.6,624.2 604.9,623.8 606.2,623.4 C607.6,623.1 608.9,622.7 610.3,622.3 C611.6,621.9 612.9,621.5 614.3,621.2 C615.6,620.8 616.9,620.4 618.3,620.0 C619.6,619.6 620.9,619.3 622.3,618.9 C623.6,618.5 624.9,618.1 626.3,617.7 C627.6,617.3 628.9,616.9 630.3,616.5 C631.6,616.1 632.9,615.7 634.3,615.3 C635.6,614.9 637.0,614.5 638.3,614.1 C639.6,613.7 641.0,613.3 642.3,612.9 C643.6,612.5 645.0,612.1 646.3,611.6 C647.6,611.2 649.0,610.8 650.3,610.4 C651.6,610.0 653.0,609.5 654.3,609.1 C655.6,608.7 657.0,608.3 658.3,607.8 C659.7,607.4 661.0,607.0 662.3,606.5 C663.7,606.1 665.0,605.6 666.3,605.2 C667.7,604.8 669.0,604.3 670.3,603.9 C671.7,603.4 673.0,602.9 674.3,602.5 C675.7,602.0 677.0,601.6 678.3,601.1 C679.7,600.6 681.0,600.2 682.3,599.7 C683.7,599.2 685.0,598.8 686.4,598.3 C687.7,597.8 689.0,597.3 690.4,596.8 C691.7,596.4 693.0,595.9 694.4,595.4 C695.7,594.9 697.0,594.4 698.4,593.9 C699.7,593.4 701.0,592.9 702.4,592.4 C703.7,591.9 705.0,591.3 706.4,590.8 C707.7,590.3 709.0,589.8 710.4,589.3 C711.7,588.7 713.1,588.2 714.4,587.7 C715.7,587.1 717.1,586.6 718.4,586.1 C719.7,585.5 721.1,585.0 722.4,584.4 C723.7,583.9 725.1,583.3 726.4,582.8 C727.7,582.3 729.1,581.7 730.4,581.2 C731.7,580.6 733.1,580.1 734.4,579.5 C735.7,579.0 737.1,578.4 738.4,577.9 C739.8,577.4 741.1,576.8 742.4,576.3 C743.8,575.8 745.1,575.2 746.4,574.7 C747.8,574.2 749.1,573.7 750.4,573.2 C751.8,572.7 753.1,572.2 754.4,571.7 C755.8,571.2 757.1,570.7 758.4,570.2 C759.8,569.7 761.1,569.3 762.4,568.8 C763.8,568.3 765.1,567.9 766.5,567.5 C767.8,567.0 769.1,566.6 770.5,566.2 C771.8,565.8 773.1,565.4 774.5,565.0 C775.8,564.6 777.1,564.2 778.5,563.9 C779.8,563.5 781.1,563.1 782.5,562.8 C783.8,562.4 785.1,562.1 786.5,561.8 C787.8,561.4 789.2,561.1 790.5,560.8 C791.8,560.5 793.2,560.2 794.5,559.9 C795.8,559.6 797.2,559.3 798.5,559.0 C799.8,558.7 801.2,558.4 802.5,558.2 C803.8,557.9 805.2,557.6 806.5,557.4 C807.8,557.1 809.2,556.9 810.5,556.6 C811.8,556.4 813.2,556.1 814.5,555.9 C815.9,555.7 817.2,555.5 818.5,555.2 C819.9,555.0 821.2,554.8 822.5,554.6 C823.9,554.4 825.2,554.2 826.5,554.0 C827.9,553.8 829.2,553.6 830.5,553.4 C831.9,553.1 833.2,552.9 834.5,552.7 C835.9,552.5 837.2,552.3 838.5,552.1 C839.9,551.9 841.2,551.7 842.6,551.5 C843.9,551.3 845.2,551.1 846.6,550.9 C847.9,550.7 849.2,550.5 850.6,550.2 C851.9,550.0 853.2,549.8 854.6,549.6 C855.9,549.3 857.2,549.1 858.6,548.8 C859.9,548.6 861.2,548.3 862.6,548.1 C863.9,547.8 865.2,547.6 866.6,547.3 C867.9,547.0 869.3,546.7 870.6,546.4 C871.9,546.1 873.3,545.8 874.6,545.5 C875.9,545.1 877.3,544.8 878.6,544.5 C879.9,544.1 881.3,543.8 882.6,543.4 C883.9,543.0 885.3,542.7 886.6,542.3 C887.9,541.9 889.3,541.5 890.6,541.1 C891.9,540.7 893.3,540.3 894.6,539.8 C896.0,539.4 897.3,539.0 898.6,538.6 C900.0,538.1 901.3,537.7 902.6,537.2 C904.0,536.7 905.3,536.3 906.6,535.8 C908.0,535.3 909.3,534.8 910.6,534.4 C912.0,533.9 913.3,533.4 914.6,532.9 C916.0,532.4 917.3,531.8 918.7,531.3 C920.0,530.8 921.3,530.3 922.7,529.7 C924.0,529.2 925.3,528.7 926.7,528.1 C928.0,527.6 929.3,527.0 930.7,526.5 C932.0,525.9 933.3,525.3 934.7,524.8 C936.0,524.2 937.3,523.6 938.7,523.1 C940.0,522.5 941.3,521.9 942.7,521.4 C944.0,520.8 945.4,520.2 946.7,519.6 C948.0,519.1 949.4,518.5 950.7,517.9 C952.0,517.4 953.4,516.8 954.7,516.2 C956.0,515.7 957.4,515.1 958.7,514.6 C960.0,514.0 961.4,513.5 962.7,512.9 C964.0,512.4 965.4,511.8 966.7,511.3 C968.0,510.8 969.4,510.3 970.7,509.7 C972.1,509.2 973.4,508.7 974.7,508.2 C976.1,507.7 977.4,507.2 978.7,506.8 C980.1,506.3 981.4,505.8 982.7,505.4 C984.1,504.9 985.4,504.5 986.7,504.0 C988.1,503.6 989.4,503.1 990.7,502.7 C992.1,502.3 993.4,501.9 994.7,501.4 C996.1,501.0 997.4,500.6 998.8,500.2 C1000.1,499.8 1001.4,499.4 1002.8,499.0 C1004.1,498.6 1005.4,498.2 1006.8,497.8 C1008.1,497.5 1009.4,497.1 1010.8,496.7 C1012.1,496.3 1013.4,495.9 1014.8,495.6 C1016.1,495.2 1017.4,494.8 1018.8,494.4 C1020.1,494.1 1021.5,493.7 1022.8,493.3 C1024.1,493.0 1025.5,492.6 1026.8,492.2 C1028.1,491.9 1029.5,491.5 1030.8,491.1 C1032.1,490.8 1033.5,490.4 1034.8,490.0 C1036.1,489.7 1037.5,489.3 1038.8,488.9 C1040.1,488.6 1041.5,488.2 1042.8,487.8 C1044.1,487.5 1045.5,487.1 1046.8,486.7 C1048.2,486.4 1049.5,486.0 1050.8,485.6 C1052.2,485.3 1053.5,484.9 1054.8,484.5 C1056.2,484.2 1057.5,483.8 1058.8,483.4 C1060.2,483.1 1061.5,482.7 1062.8,482.3 C1064.2,481.9 1065.5,481.6 1066.8,481.2 C1068.2,480.8 1069.5,480.4 1070.8,480.1 C1072.2,479.7 1073.5,479.3 1074.9,478.9 C1076.2,478.6 1077.5,478.2 1078.9,477.8 C1080.2,477.4 1081.5,477.0 1082.9,476.6 C1084.2,476.3 1085.5,475.9 1086.9,475.5 C1088.2,475.1 1089.5,474.7 1090.9,474.3 C1092.2,473.9 1093.5,473.5 1094.9,473.1 C1096.2,472.7 1097.5,472.3 1098.9,471.9 C1100.2,471.5 1101.6,471.1 1102.9,470.7 C1104.2,470.3 1105.6,469.9 1106.9,469.5 C1108.2,469.1 1109.6,468.7 1110.9,468.3 C1112.2,467.9 1113.6,467.5 1114.9,467.0 C1116.2,466.6 1117.6,466.2 1118.9,465.8 C1120.2,465.4 1121.6,464.9 1122.9,464.5 C1124.2,464.1 1125.6,463.6 1126.9,463.2 C1128.3,462.8 1129.6,462.3 1130.9,461.9 C1132.3,461.4 1133.6,461.0 1134.9,460.6 C1136.3,460.1 1137.6,459.7 1138.9,459.2 C1140.3,458.8 1141.6,458.3 1142.9,457.9 C1144.3,457.4 1145.6,456.9 1146.9,456.5 C1148.3,456.0 1149.6,455.6 1151.0,455.1 C1152.3,454.7 1153.6,454.2 1155.0,453.7 C1156.3,453.3 1157.6,452.8 1159.0,452.4 C1160.3,451.9 1161.6,451.5 1163.0,451.0 C1164.3,450.6 1165.6,450.1 1167.0,449.7 C1168.3,449.2 1169.6,448.8 1171.0,448.3 C1172.3,447.9 1173.6,447.5 1175.0,447.0 C1176.3,446.6 1177.7,446.2 1179.0,445.7 C1180.3,445.3 1181.7,444.9 1183.0,444.5 C1184.3,444.0 1185.7,443.6 1187.0,443.2 C1188.3,442.8 1189.7,442.4 1191.0,442.0 C1192.3,441.6 1193.7,441.2 1195.0,440.8 C1196.3,440.4 1197.7,440.1 1199.0,439.7 C1200.3,439.3 1201.7,438.9 1203.0,438.6 C1204.4,438.2 1205.7,437.9 1207.0,437.5 C1208.4,437.2 1209.7,436.9 1211.0,436.5 C1212.4,436.2 1213.7,435.9 1215.0,435.6 C1216.4,435.3 1217.7,435.0 1219.0,434.7 C1220.4,434.4 1221.7,434.1 1223.0,433.8 C1224.4,433.6 1225.7,433.3 1227.0,433.1 C1228.4,432.8 1229.7,432.6 1231.1,432.4 C1232.4,432.1 1233.7,431.9 1235.1,431.7 C1236.4,431.5 1237.7,431.4 1239.1,431.2 C1240.4,431.0 1241.7,430.8 1243.1,430.7 C1244.4,430.5 1245.7,430.4 1247.1,430.3 C1248.4,430.1 1249.7,430.0 1251.1,429.9 C1252.4,429.8 1253.7,429.7 1255.1,429.6 C1256.4,429.5 1257.8,429.4 1259.1,429.3 C1260.4,429.2 1261.8,429.2 1263.1,429.1 C1264.4,429.0 1265.8,429.0 1267.1,428.9 C1268.4,428.9 1269.8,428.8 1271.1,428.8 C1272.4,428.7 1273.8,428.7 1275.1,428.7 C1276.4,428.7 1277.8,428.6 1279.1,428.6 C1280.5,428.6 1281.8,428.6 1283.1,428.6 C1284.5,428.6 1285.8,428.5 1287.1,428.5 C1288.5,428.5 1289.8,428.5 1291.1,428.5 C1292.5,428.5 1293.8,428.5 1295.1,428.5 C1296.5,428.5 1297.8,428.5 1299.1,428.5 C1300.5,428.5 1301.8,428.6 1303.1,428.6 C1304.5,428.6 1305.8,428.6 1307.2,428.6 C1308.5,428.6 1309.8,428.6 1311.2,428.6 C1312.5,428.6 1313.8,428.7 1315.2,428.7 C1316.5,428.7 1317.8,428.7 1319.2,428.7 C1320.5,428.8 1321.8,428.8 1323.2,428.8 C1324.5,428.8 1325.8,428.8 1327.2,428.9 C1328.5,428.9 1329.8,428.9 1331.2,428.9 C1332.5,428.9 1333.9,429.0 1335.2,429.0 C1336.5,429.0 1337.9,429.0 1339.2,429.1 C1340.5,429.1 1341.9,429.1 1343.2,429.1 C1344.5,429.2 1345.9,429.2 1347.2,429.2 C1348.5,429.2 1349.9,429.3 1351.2,429.3 C1352.5,429.3 1353.9,429.4 1355.2,429.4 C1356.5,429.4 1357.9,429.4 1359.2,429.5 C1360.6,429.5 1361.9,429.5 1363.2,429.6 C1364.6,429.6 1365.9,429.7 1367.2,429.7 C1368.6,429.7 1369.9,429.8 1371.2,429.8 C1372.6,429.9 1373.9,429.9 1375.2,430.0 C1376.6,430.1 1377.9,430.1 1379.2,430.2 C1380.6,430.3 1381.9,430.3 1383.3,430.4 C1384.6,430.5 1385.9,430.6 1387.3,430.7 C1388.6,430.8 1389.9,430.9 1391.3,431.0 C1392.6,431.1 1393.9,431.2 1395.3,431.3 C1396.6,431.4 1397.9,431.6 1399.3,431.7 C1400.6,431.8 1401.9,432.0 1403.3,432.1 C1404.6,432.3 1405.9,432.4 1407.3,432.6 C1408.6,432.8 1410.0,432.9 1411.3,433.1 C1412.6,433.3 1414.0,433.5 1415.3,433.6 C1416.6,433.8 1418.0,434.0 1419.3,434.2 C1420.6,434.4 1422.0,434.6 1423.3,434.8 C1424.6,435.0 1426.0,435.2 1427.3,435.4 C1428.6,435.6 1430.0,435.8 1431.3,436.0 C1432.6,436.3 1434.0,436.5 1435.3,436.7 C1436.7,436.9 1438.0,437.1 1439.3,437.3 C1440.7,437.5 1442.0,437.8 1443.3,438.0 C1444.7,438.2 1446.0,438.4 1447.3,438.6 C1448.7,438.8 1450.0,439.0 1451.3,439.2 C1452.7,439.4 1454.0,439.6 1455.3,439.8 C1456.7,440.1 1458.0,440.3 1459.3,440.4 C1460.7,440.6 1462.0,440.8 1463.4,441.0 C1464.7,441.2 1466.0,441.4 1467.4,441.6 C1468.7,441.8 1470.0,442.0 1471.4,442.2 C1472.7,442.3 1474.0,442.5 1475.4,442.7 C1476.7,442.9 1478.0,443.1 1479.4,443.2 C1480.7,443.4 1482.0,443.6 1483.4,443.8 C1484.7,443.9 1486.0,444.1 1487.4,444.3 C1488.7,444.4 1490.1,444.6 1491.4,444.7 C1492.7,444.9 1494.1,445.1 1495.4,445.2 C1496.7,445.4 1498.1,445.5 1499.4,445.7 C1500.7,445.9 1502.1,446.0 1503.4,446.2 C1504.7,446.3 1506.1,446.5 1507.4,446.6 C1508.7,446.8 1510.1,446.9 1511.4,447.1 C1512.8,447.2 1514.1,447.3 1515.4,447.5 C1516.8,447.6 1518.1,447.8 1519.4,447.9 C1520.8,448.1 1522.1,448.2 1523.4,448.3 C1524.8,448.5 1526.1,448.6 1527.4,448.7 C1528.8,448.9 1530.1,449.0 1531.4,449.1 C1532.8,449.3 1534.1,449.4 1535.4,449.5 C1536.8,449.7 1538.1,449.8 1539.5,449.9 C1540.8,450.0 1542.1,450.2 1543.5,450.3 C1544.8,450.4 1546.1,450.5 1547.5,450.7 C1548.8,450.8 1550.1,450.9 1551.5,451.0 C1552.8,451.2 1554.1,451.3 1555.5,451.4 C1556.8,451.5 1558.1,451.6 1559.5,451.8 C1560.8,451.9 1562.1,452.0 1563.5,452.1 C1564.8,452.2 1566.2,452.4 1567.5,452.5 C1568.8,452.6 1570.2,452.7 1571.5,452.8 C1572.8,452.9 1574.2,453.0 1575.5,453.1 C1576.8,453.2 1578.2,453.3 1579.5,453.4 C1580.8,453.5 1582.2,453.6 1583.5,453.7 C1584.8,453.8 1586.2,453.9 1587.5,454.0 C1588.8,454.0 1590.2,454.1 1591.5,454.2 C1592.9,454.2 1594.2,454.3 1595.5,454.3 C1596.9,454.4 1598.2,454.4 1599.5,454.5 C1600.9,454.5 1602.2,454.5 1603.5,454.5 C1604.9,454.6 1606.2,454.6 1607.5,454.6 C1608.9,454.6 1610.2,454.6 1611.5,454.5 C1612.9,454.5 1614.2,454.5 1615.6,454.5 C1616.9,454.4 1618.2,454.4 1619.6,454.3 C1620.9,454.2 1622.2,454.2 1623.6,454.1 C1624.9,454.0 1626.2,453.9 1627.6,453.8 C1628.9,453.7 1630.2,453.6 1631.6,453.5 C1632.9,453.4 1634.2,453.2 1635.6,453.1 C1636.9,453.0 1638.2,452.8 1639.6,452.7 C1640.9,452.5 1642.3,452.4 1643.6,452.2 C1644.9,452.1 1646.3,451.9 1647.6,451.7 C1648.9,451.6 1650.3,451.4 1651.6,451.2 C1652.9,451.0 1654.3,450.8 1655.6,450.7 C1656.9,450.5 1658.3,450.3 1659.6,450.1 C1660.9,449.9 1662.3,449.7 1663.6,449.5 C1664.9,449.3 1666.3,449.1 1667.6,448.9 C1669.0,448.7 1670.3,448.5 1671.6,448.3 C1673.0,448.1 1674.3,447.9 1675.6,447.7 C1677.0,447.5 1678.3,447.3 1679.6,447.1 C1681.0,446.9 1682.3,446.7 1683.6,446.5 C1685.0,446.4 1686.3,446.2 1687.6,446.0 C1689.0,445.8 1690.3,445.6 1691.6,445.5 C1693.0,445.3 1694.3,445.1 1695.7,445.0 C1697.0,444.8 1698.3,444.6 1699.7,444.5 C1701.0,444.3 1702.3,444.2 1703.7,444.1 C1705.0,444.0 1706.3,443.8 1707.7,443.7 C1709.0,443.6 1710.3,443.5 1711.7,443.4 C1713.0,443.3 1714.3,443.3 1715.7,443.2 C1717.0,443.1 1718.3,443.1 1719.7,443.0 C1721.0,443.0 1722.4,443.0 1723.7,443.0 C1725.0,442.9 1726.4,442.9 1727.7,443.0 C1729.0,443.0 1731.0,443.0 1731.7,443.1" stroke="#f4f41c" stroke-width="5.3" stroke-dasharray="15.9 11.4" stroke-dashoffset="13.5"/>
<path d="M181.7,489.4 C182.4,488.8 184.4,487.2 185.7,486.1 C187.0,485.0 188.4,483.9 189.7,482.8 C191.0,481.7 192.4,480.6 193.7,479.4 C195.1,478.3 196.4,477.2 197.7,476.0 C199.1,474.8 200.4,473.7 201.7,472.5 C203.1,471.3 204.4,470.2 205.7,469.0 C207.1,467.8 208.4,466.6 209.7,465.5 C211.1,464.3 212.4,463.1 213.7,461.9 C215.1,460.7 216.4,459.6 217.7,458.4 C219.1,457.2 220.4,456.0 221.8,454.9 C223.1,453.7 224.4,452.6 225.8,451.4 C227.1,450.3 228.4,449.1 229.8,448.0 C231.1,446.9 232.4,445.7 233.8,444.6 C235.1,443.5 236.4,442.4 237.8,441.3 C239.1,440.2 240.4,439.2 241.8,438.1 C243.1,437.0 244.4,436.0 245.8,435.0 C247.1,433.9 248.5,432.9 249.8,431.9 C251.1,430.9 252.5,429.9 253.8,429.0 C255.1,428.0 256.5,427.1 257.8,426.2 C259.1,425.2 260.5,424.3 261.8,423.5 C263.1,422.6 264.5,421.7 265.8,420.9 C267.1,420.1 268.5,419.3 269.8,418.5 C271.1,417.7 272.5,416.9 273.8,416.2 C275.2,415.5 276.5,414.8 277.8,414.1 C279.2,413.5 280.5,412.8 281.8,412.2 C283.2,411.6 284.5,411.0 285.8,410.5 C287.2,409.9 288.5,409.4 289.8,408.9 C291.2,408.5 292.5,408.0 293.8,407.6 C295.2,407.2 296.5,406.8 297.8,406.5 C299.2,406.2 300.5,405.9 301.9,405.6 C303.2,405.3 304.5,405.1 305.9,404.9 C307.2,404.7 308.5,404.5 309.9,404.3 C311.2,404.2 312.5,404.0 313.9,403.9 C315.2,403.8 316.5,403.7 317.9,403.6 C319.2,403.5 320.5,403.5 321.9,403.4 C323.2,403.4 324.6,403.4 325.9,403.3 C327.2,403.3 328.6,403.3 329.9,403.3 C331.2,403.3 332.6,403.3 333.9,403.3 C335.2,403.3 336.6,403.3 337.9,403.3 C339.2,403.3 340.6,403.3 341.9,403.4 C343.2,403.4 344.6,403.4 345.9,403.4 C347.2,403.4 348.6,403.4 349.9,403.4 C351.3,403.4 352.6,403.4 353.9,403.4 C355.3,403.4 356.6,403.5 357.9,403.5 C359.3,403.5 360.6,403.5 361.9,403.5 C363.3,403.5 364.6,403.5 365.9,403.5 C367.3,403.5 368.6,403.6 369.9,403.6 C371.3,403.6 372.6,403.6 373.9,403.6 C375.3,403.6 376.6,403.6 378.0,403.7 C379.3,403.7 380.6,403.7 382.0,403.7 C383.3,403.7 384.6,403.7 386.0,403.8 C387.3,403.8 388.6,403.8 390.0,403.8 C391.3,403.8 392.6,403.9 394.0,403.9 C395.3,403.9 396.6,403.9 398.0,404.0 C399.3,404.0 400.6,404.0 402.0,404.0 C403.3,404.1 404.7,404.1 406.0,404.1 C407.3,404.1 408.7,404.2 410.0,404.2 C411.3,404.2 412.7,404.2 414.0,404.3 C415.3,404.3 416.7,404.3 418.0,404.4 C419.3,404.4 420.7,404.4 422.0,404.5 C423.3,404.5 424.7,404.5 426.0,404.6 C427.4,404.6 428.7,404.6 430.0,404.7 C431.4,404.7 432.7,404.8 434.0,404.8 C435.4,404.8 436.7,404.9 438.0,404.9 C439.4,405.0 440.7,405.0 442.0,405.0 C443.4,405.1 444.7,405.1 446.0,405.2 C447.4,405.2 448.7,405.3 450.0,405.3 C451.4,405.4 452.7,405.4 454.1,405.5 C455.4,405.5 456.7,405.5 458.1,405.6 C459.4,405.6 460.7,405.7 462.1,405.7 C463.4,405.8 464.7,405.8 466.1,405.9 C467.4,406.0 468.7,406.0 470.1,406.1 C471.4,406.1 472.7,406.2 474.1,406.2 C475.4,406.3 476.7,406.3 478.1,406.4 C479.4,406.4 480.8,406.5 482.1,406.6 C483.4,406.6 484.8,406.7 486.1,406.7 C487.4,406.8 488.8,406.9 490.1,406.9 C491.4,407.0 492.8,407.0 494.1,407.1 C495.4,407.2 496.8,407.2 498.1,407.3 C499.4,407.4 500.8,407.4 502.1,407.5 C503.4,407.6 504.8,407.6 506.1,407.7 C507.5,407.8 508.8,407.8 510.1,407.9 C511.5,408.0 512.8,408.0 514.1,408.1 C515.5,408.2 516.8,408.2 518.1,408.3 C519.5,408.4 520.8,408.4 522.1,408.5 C523.5,408.6 524.8,408.6 526.1,408.7 C527.5,408.8 528.8,408.8 530.1,408.9 C531.5,409.0 532.8,409.0 534.2,409.1 C535.5,409.1 536.8,409.2 538.2,409.3 C539.5,409.3 540.8,409.4 542.2,409.5 C543.5,409.5 544.8,409.6 546.2,409.6 C547.5,409.7 548.8,409.8 550.2,409.8 C551.5,409.9 552.8,409.9 554.2,410.0 C555.5,410.1 556.9,410.1 558.2,410.2 C559.5,410.2 560.9,410.3 562.2,410.3 C563.5,410.4 564.9,410.4 566.2,410.5 C567.5,410.5 568.9,410.6 570.2,410.6 C571.5,410.7 572.9,410.7 574.2,410.7 C575.5,410.8 576.9,410.8 578.2,410.9 C579.5,410.9 580.9,410.9 582.2,411.0 C583.6,411.0 584.9,411.1 586.2,411.1 C587.6,411.1 588.9,411.1 590.2,411.2 C591.6,411.2 592.9,411.2 594.2,411.2 C595.6,411.3 596.9,411.3 598.2,411.3 C599.6,411.3 600.9,411.3 602.2,411.4 C603.6,411.4 604.9,411.4 606.2,411.4 C607.6,411.4 608.9,411.4 610.3,411.4 C611.6,411.4 612.9,411.4 614.3,411.4 C615.6,411.4 616.9,411.4 618.3,411.4 C619.6,411.4 620.9,411.4 622.3,411.4 C623.6,411.3 624.9,411.3 626.3,411.3 C627.6,411.3 628.9,411.3 630.3,411.2 C631.6,411.2 632.9,411.2 634.3,411.1 C635.6,411.1 637.0,411.1 638.3,411.0 C639.6,411.0 641.0,410.9 642.3,410.9 C643.6,410.8 645.0,410.8 646.3,410.7 C647.6,410.7 649.0,410.6 650.3,410.6 C651.6,410.5 653.0,410.4 654.3,410.3 C655.6,410.3 657.0,410.2 658.3,410.1 C659.7,410.0 661.0,410.0 662.3,409.9 C663.7,409.8 665.0,409.7 666.3,409.6 C667.7,409.5 669.0,409.4 670.3,409.3 C671.7,409.2 673.0,409.1 674.3,409.0 C675.7,408.8 677.0,408.7 678.3,408.6 C679.7,408.5 681.0,408.4 682.3,408.2 C683.7,408.1 685.0,407.9 686.4,407.8 C687.7,407.7 689.0,407.5 690.4,407.4 C691.7,407.2 693.0,407.0 694.4,406.9 C695.7,406.7 697.0,406.6 698.4,406.4 C699.7,406.2 701.0,406.0 702.4,405.8 C703.7,405.7 705.0,405.5 706.4,405.3 C707.7,405.1 709.0,404.9 710.4,404.7 C711.7,404.5 713.1,404.2 714.4,404.0 C715.7,403.8 717.1,403.6 718.4,403.4 C719.7,403.1 721.1,402.9 722.4,402.7 C723.7,402.4 725.1,402.2 726.4,402.0 C727.7,401.7 729.1,401.5 730.4,401.3 C731.7,401.0 733.1,400.8 734.4,400.6 C735.7,400.3 737.1,400.1 738.4,399.9 C739.8,399.7 741.1,399.5 742.4,399.3 C743.8,399.1 745.1,398.9 746.4,398.7 C747.8,398.5 749.1,398.3 750.4,398.2 C751.8,398.0 753.1,397.9 754.4,397.7 C755.8,397.6 757.1,397.5 758.4,397.4 C759.8,397.2 761.1,397.2 762.4,397.1 C763.8,397.0 765.1,396.9 766.5,396.9 C767.8,396.9 769.1,396.9 770.5,396.9 C771.8,396.9 773.1,396.9 774.5,396.9 C775.8,397.0 777.1,397.0 778.5,397.1 C779.8,397.2 781.1,397.2 782.5,397.3 C783.8,397.4 785.1,397.6 786.5,397.7 C787.8,397.8 789.2,398.0 790.5,398.1 C791.8,398.3 793.2,398.5 794.5,398.6 C795.8,398.8 797.2,399.0 798.5,399.2 C799.8,399.4 801.2,399.6 802.5,399.8 C803.8,400.0 805.2,400.3 806.5,400.5 C807.8,400.7 809.2,401.0 810.5,401.2 C811.8,401.4 813.2,401.7 814.5,401.9 C815.9,402.2 817.2,402.4 818.5,402.7 C819.9,402.9 821.2,403.2 822.5,403.5 C823.9,403.7 825.2,404.0 826.5,404.2 C827.9,404.5 829.2,404.7 830.5,405.0 C831.9,405.2 833.2,405.5 834.5,405.7 C835.9,406.0 837.2,406.2 838.5,406.5 C839.9,406.7 841.2,407.0 842.6,407.2 C843.9,407.4 845.2,407.7 846.6,407.9 C847.9,408.1 849.2,408.3 850.6,408.5 C851.9,408.7 853.2,408.9 854.6,409.1 C855.9,409.3 857.2,409.5 858.6,409.7 C859.9,409.8 861.2,410.0 862.6,410.2 C863.9,410.3 865.2,410.4 866.6,410.6 C867.9,410.7 869.3,410.8 870.6,410.9 C871.9,411.0 873.3,411.1 874.6,411.2 C875.9,411.3 877.3,411.3 878.6,411.4 C879.9,411.4 881.3,411.4 882.6,411.4 C883.9,411.5 885.3,411.5 886.6,411.4 C887.9,411.4 889.3,411.4 890.6,411.4 C891.9,411.3 893.3,411.3 894.6,411.2 C896.0,411.2 897.3,411.1 898.6,411.0 C900.0,410.9 901.3,410.8 902.6,410.7 C904.0,410.6 905.3,410.5 906.6,410.4 C908.0,410.3 909.3,410.1 910.6,410.0 C912.0,409.8 913.3,409.7 914.6,409.5 C916.0,409.4 917.3,409.2 918.7,409.0 C920.0,408.9 921.3,408.7 922.7,408.5 C924.0,408.3 925.3,408.1 926.7,407.9 C928.0,407.7 929.3,407.5 930.7,407.3 C932.0,407.1 933.3,406.9 934.7,406.7 C936.0,406.5 937.3,406.3 938.7,406.0 C940.0,405.8 941.3,405.6 942.7,405.4 C944.0,405.2 945.4,404.9 946.7,404.7 C948.0,404.5 949.4,404.3 950.7,404.1 C952.0,403.8 953.4,403.6 954.7,403.4 C956.0,403.2 957.4,403.0 958.7,402.8 C960.0,402.6 961.4,402.4 962.7,402.2 C964.0,402.0 965.4,401.8 966.7,401.6 C968.0,401.4 969.4,401.3 970.7,401.1 C972.1,400.9 973.4,400.8 974.7,400.6 C976.1,400.5 977.4,400.3 978.7,400.2 C980.1,400.1 981.4,399.9 982.7,399.8 C984.1,399.7 985.4,399.6 986.7,399.6 C988.1,399.5 989.4,399.4 990.7,399.3 C992.1,399.3 993.4,399.2 994.7,399.2 C996.1,399.2 997.4,399.1 998.8,399.1 C1000.1,399.1 1001.4,399.1 1002.8,399.1 C1004.1,399.1 1005.4,399.1 1006.8,399.1 C1008.1,399.1 1009.4,399.1 1010.8,399.1 C1012.1,399.2 1013.4,399.2 1014.8,399.2 C1016.1,399.3 1017.4,399.3 1018.8,399.4 C1020.1,399.4 1021.5,399.5 1022.8,399.5 C1024.1,399.6 1025.5,399.6 1026.8,399.7 C1028.1,399.8 1029.5,399.8 1030.8,399.9 C1032.1,400.0 1033.5,400.0 1034.8,400.1 C1036.1,400.2 1037.5,400.3 1038.8,400.3 C1040.1,400.4 1041.5,400.5 1042.8,400.6 C1044.1,400.7 1045.5,400.7 1046.8,400.8 C1048.2,400.9 1049.5,401.0 1050.8,401.0 C1052.2,401.1 1053.5,401.2 1054.8,401.3 C1056.2,401.3 1057.5,401.4 1058.8,401.5 C1060.2,401.5 1061.5,401.6 1062.8,401.7 C1064.2,401.7 1065.5,401.8 1066.8,401.9 C1068.2,401.9 1069.5,402.0 1070.8,402.0 C1072.2,402.1 1073.5,402.1 1074.9,402.2 C1076.2,402.2 1077.5,402.2 1078.9,402.3 C1080.2,402.3 1081.5,402.3 1082.9,402.3 C1084.2,402.4 1085.5,402.4 1086.9,402.4 C1088.2,402.4 1089.5,402.4 1090.9,402.4 C1092.2,402.4 1093.5,402.3 1094.9,402.3 C1096.2,402.3 1097.5,402.3 1098.9,402.2 C1100.2,402.2 1101.6,402.1 1102.9,402.1 C1104.2,402.0 1105.6,402.0 1106.9,401.9 C1108.2,401.9 1109.6,401.8 1110.9,401.7 C1112.2,401.6 1113.6,401.6 1114.9,401.5 C1116.2,401.4 1117.6,401.3 1118.9,401.2 C1120.2,401.2 1121.6,401.1 1122.9,401.0 C1124.2,400.9 1125.6,400.8 1126.9,400.7 C1128.3,400.6 1129.6,400.5 1130.9,400.4 C1132.3,400.3 1133.6,400.2 1134.9,400.1 C1136.3,400.0 1137.6,399.9 1138.9,399.9 C1140.3,399.8 1141.6,399.7 1142.9,399.6 C1144.3,399.5 1145.6,399.4 1146.9,399.3 C1148.3,399.2 1149.6,399.1 1151.0,399.1 C1152.3,399.0 1153.6,398.9 1155.0,398.8 C1156.3,398.8 1157.6,398.7 1159.0,398.6 C1160.3,398.6 1161.6,398.5 1163.0,398.4 C1164.3,398.4 1165.6,398.3 1167.0,398.3 C1168.3,398.2 1169.6,398.2 1171.0,398.1 C1172.3,398.1 1173.6,398.1 1175.0,398.0 C1176.3,398.0 1177.7,398.0 1179.0,398.0 C1180.3,397.9 1181.7,397.9 1183.0,397.9 C1184.3,397.9 1185.7,397.9 1187.0,397.9 C1188.3,397.9 1189.7,397.9 1191.0,397.9 C1192.3,397.9 1193.7,398.0 1195.0,398.0 C1196.3,398.0 1197.7,398.0 1199.0,398.1 C1200.3,398.1 1201.7,398.2 1203.0,398.2 C1204.4,398.3 1205.7,398.3 1207.0,398.4 C1208.4,398.5 1209.7,398.6 1211.0,398.6 C1212.4,398.7 1213.7,398.8 1215.0,398.9 C1216.4,399.0 1217.7,399.1 1219.0,399.2 C1220.4,399.4 1221.7,399.5 1223.0,399.6 C1224.4,399.8 1225.7,399.9 1227.0,400.1 C1228.4,400.2 1229.7,400.4 1231.1,400.5 C1232.4,400.7 1233.7,400.9 1235.1,401.1 C1236.4,401.3 1237.7,401.5 1239.1,401.7 C1240.4,401.9 1241.7,402.1 1243.1,402.3 C1244.4,402.6 1245.7,402.8 1247.1,403.1 C1248.4,403.3 1249.7,403.6 1251.1,403.9 C1252.4,404.1 1253.7,404.4 1255.1,404.7 C1256.4,405.0 1257.8,405.3 1259.1,405.6 C1260.4,405.9 1261.8,406.3 1263.1,406.6 C1264.4,406.9 1265.8,407.3 1267.1,407.6 C1268.4,408.0 1269.8,408.4 1271.1,408.7 C1272.4,409.1 1273.8,409.5 1275.1,409.9 C1276.4,410.3 1277.8,410.6 1279.1,411.0 C1280.5,411.4 1281.8,411.8 1283.1,412.2 C1284.5,412.6 1285.8,413.0 1287.1,413.4 C1288.5,413.9 1289.8,414.3 1291.1,414.7 C1292.5,415.1 1293.8,415.5 1295.1,415.9 C1296.5,416.3 1297.8,416.7 1299.1,417.1 C1300.5,417.6 1301.8,418.0 1303.1,418.4 C1304.5,418.8 1305.8,419.2 1307.2,419.6 C1308.5,420.0 1309.8,420.4 1311.2,420.8 C1312.5,421.2 1313.8,421.6 1315.2,421.9 C1316.5,422.3 1317.8,422.7 1319.2,423.1 C1320.5,423.5 1321.8,423.9 1323.2,424.2 C1324.5,424.6 1325.8,425.0 1327.2,425.4 C1328.5,425.7 1329.8,426.1 1331.2,426.5 C1332.5,426.9 1333.9,427.3 1335.2,427.6 C1336.5,428.0 1337.9,428.4 1339.2,428.8 C1340.5,429.1 1341.9,429.5 1343.2,429.9 C1344.5,430.3 1345.9,430.7 1347.2,431.0 C1348.5,431.4 1349.9,431.8 1351.2,432.2 C1352.5,432.6 1353.9,433.0 1355.2,433.4 C1356.5,433.8 1357.9,434.2 1359.2,434.6 C1360.6,435.0 1361.9,435.4 1363.2,435.9 C1364.6,436.3 1365.9,436.7 1367.2,437.1 C1368.6,437.6 1369.9,438.0 1371.2,438.4 C1372.6,438.9 1373.9,439.3 1375.2,439.8 C1376.6,440.2 1377.9,440.7 1379.2,441.1 C1380.6,441.6 1381.9,442.0 1383.3,442.5 C1384.6,442.9 1385.9,443.4 1387.3,443.9 C1388.6,444.4 1389.9,444.8 1391.3,445.3 C1392.6,445.8 1393.9,446.3 1395.3,446.7 C1396.6,447.2 1397.9,447.7 1399.3,448.2 C1400.6,448.7 1401.9,449.2 1403.3,449.7 C1404.6,450.2 1405.9,450.6 1407.3,451.1 C1408.6,451.6 1410.0,452.1 1411.3,452.6 C1412.6,453.1 1414.0,453.6 1415.3,454.1 C1416.6,454.6 1418.0,455.2 1419.3,455.7 C1420.6,456.2 1422.0,456.7 1423.3,457.2 C1424.6,457.7 1426.0,458.2 1427.3,458.7 C1428.6,459.2 1430.0,459.7 1431.3,460.2 C1432.6,460.8 1434.0,461.3 1435.3,461.8 C1436.7,462.3 1438.0,462.8 1439.3,463.3 C1440.7,463.8 1442.0,464.3 1443.3,464.9 C1444.7,465.4 1446.0,465.9 1447.3,466.4 C1448.7,466.9 1450.0,467.4 1451.3,467.9 C1452.7,468.4 1454.0,468.9 1455.3,469.4 C1456.7,470.0 1458.0,470.5 1459.3,471.0 C1460.7,471.5 1462.0,472.0 1463.4,472.5 C1464.7,473.0 1466.0,473.5 1467.4,474.0 C1468.7,474.5 1470.0,475.0 1471.4,475.5 C1472.7,476.0 1474.0,476.5 1475.4,477.0 C1476.7,477.4 1478.0,477.9 1479.4,478.4 C1480.7,478.9 1482.0,479.4 1483.4,479.9 C1484.7,480.4 1486.0,480.8 1487.4,481.3 C1488.7,481.8 1490.1,482.3 1491.4,482.8 C1492.7,483.2 1494.1,483.7 1495.4,484.2 C1496.7,484.7 1498.1,485.1 1499.4,485.6 C1500.7,486.1 1502.1,486.5 1503.4,487.0 C1504.7,487.5 1506.1,487.9 1507.4,488.4 C1508.7,488.8 1510.1,489.3 1511.4,489.7 C1512.8,490.2 1514.1,490.7 1515.4,491.1 C1516.8,491.6 1518.1,492.0 1519.4,492.4 C1520.8,492.9 1522.1,493.3 1523.4,493.8 C1524.8,494.2 1526.1,494.7 1527.4,495.1 C1528.8,495.5 1530.1,496.0 1531.4,496.4 C1532.8,496.8 1534.1,497.2 1535.4,497.7 C1536.8,498.1 1538.1,498.5 1539.5,498.9 C1540.8,499.4 1542.1,499.8 1543.5,500.2 C1544.8,500.6 1546.1,501.0 1547.5,501.4 C1548.8,501.8 1550.1,502.2 1551.5,502.6 C1552.8,503.0 1554.1,503.4 1555.5,503.8 C1556.8,504.2 1558.1,504.6 1559.5,505.0 C1560.8,505.4 1562.1,505.8 1563.5,506.2 C1564.8,506.6 1566.2,507.0 1567.5,507.3 C1568.8,507.7 1570.2,508.1 1571.5,508.5 C1572.8,508.8 1574.2,509.2 1575.5,509.6 C1576.8,509.9 1578.2,510.3 1579.5,510.7 C1580.8,511.0 1582.2,511.4 1583.5,511.7 C1584.8,512.1 1586.2,512.4 1587.5,512.8 C1588.8,513.1 1590.2,513.4 1591.5,513.8 C1592.9,514.1 1594.2,514.4 1595.5,514.7 C1596.9,515.0 1598.2,515.4 1599.5,515.7 C1600.9,516.0 1602.2,516.3 1603.5,516.6 C1604.9,516.9 1606.2,517.2 1607.5,517.4 C1608.9,517.7 1610.2,518.0 1611.5,518.3 C1612.9,518.5 1614.2,518.8 1615.6,519.0 C1616.9,519.3 1618.2,519.5 1619.6,519.8 C1620.9,520.0 1622.2,520.2 1623.6,520.5 C1624.9,520.7 1626.2,520.9 1627.6,521.1 C1628.9,521.3 1630.2,521.5 1631.6,521.7 C1632.9,521.9 1634.2,522.0 1635.6,522.2 C1636.9,522.4 1638.2,522.5 1639.6,522.7 C1640.9,522.8 1642.3,523.0 1643.6,523.1 C1644.9,523.2 1646.3,523.3 1647.6,523.5 C1648.9,523.6 1650.3,523.7 1651.6,523.7 C1652.9,523.8 1654.3,523.9 1655.6,524.0 C1656.9,524.1 1658.3,524.1 1659.6,524.2 C1660.9,524.2 1662.3,524.3 1663.6,524.4 C1664.9,524.4 1666.3,524.4 1667.6,524.5 C1669.0,524.5 1670.3,524.6 1671.6,524.6 C1673.0,524.7 1674.3,524.7 1675.6,524.8 C1677.0,524.8 1678.3,524.8 1679.6,524.9 C1681.0,524.9 1682.3,525.0 1683.6,525.1 C1685.0,525.1 1686.3,525.2 1687.6,525.2 C1689.0,525.3 1690.3,525.4 1691.6,525.5 C1693.0,525.5 1694.3,525.6 1695.7,525.7 C1697.0,525.8 1698.3,525.9 1699.7,526.1 C1701.0,526.2 1702.3,526.3 1703.7,526.4 C1705.0,526.6 1706.3,526.7 1707.7,526.9 C1709.0,527.1 1710.3,527.3 1711.7,527.5 C1713.0,527.7 1714.3,527.9 1715.7,528.1 C1717.0,528.4 1718.3,528.6 1719.7,528.9 C1721.0,529.2 1722.4,529.5 1723.7,529.8 C1725.0,530.1 1726.4,530.4 1727.7,530.8 C1729.0,531.2 1731.0,531.8 1731.7,531.9" stroke="#ffffff" stroke-width="5.3" stroke-dasharray="15.9 11.4" stroke-dashoffset="21.8"/>
</g>
<g font-family="Liberation Sans, sans-serif" font-size="30" fill="#fff" opacity="0.999">
<rect x="361.2" y="1022" width="14.8" height="5.2" fill="#ffff00"/>
<text transform="translate(385.50,1033.05) scale(1,1.0)" font-size="30" fill="#fff" stroke="#fff" stroke-width="0.35">034 - 263 AWHP</text>
<rect x="644.8" y="1022" width="14.7" height="5.2" fill="#f2f2f2"/>
<text transform="translate(668.80,1033.05) scale(1,1.0)" font-size="30" fill="#fff" stroke="#fff" stroke-width="0.35">034 - 299 AWTQ</text>
<rect x="912" y="1022" width="15.4" height="5.2" fill="#f4f41c"/>
<rect x="939.3" y="1022" width="15.6" height="5.2" fill="#f4f41c"/>
<text transform="translate(981.50,1033.05) scale(1,1.0)" font-size="30" fill="#fff" stroke="#fff" stroke-width="0.35">Stock - 226 AWHP</text>
<rect x="1248.9" y="1022" width="15.5" height="5.2" fill="#fff"/>
<rect x="1276.3" y="1022" width="15.6" height="5.2" fill="#fff"/>
<text transform="translate(1318.60,1033.05) scale(1,1.0)" font-size="30" fill="#fff" stroke="#fff" stroke-width="0.35">Stock - 240AWTQ</text>
</g>
</svg>
</div></body></html>
